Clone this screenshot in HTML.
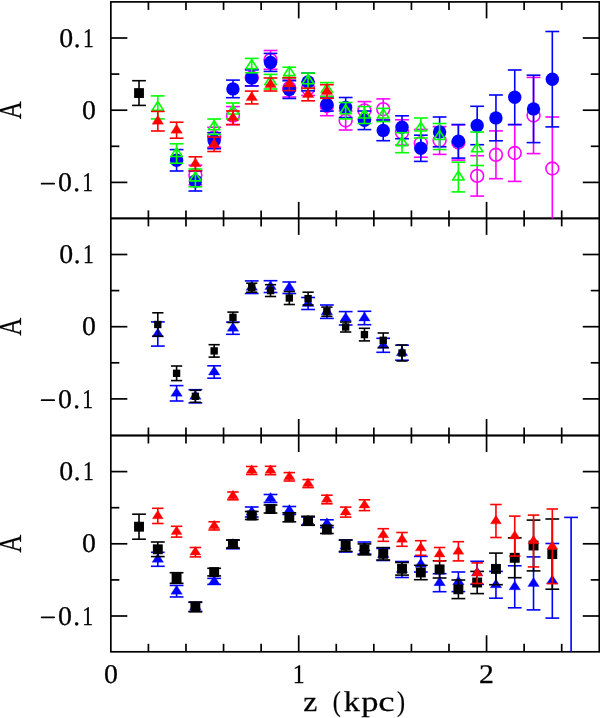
<!DOCTYPE html>
<html><head><meta charset="utf-8"><title>A vs z</title>
<style>
html,body{margin:0;padding:0;background:#fff;}
body{width:600px;height:718px;overflow:hidden;}
svg{display:block;}
text{text-rendering:geometricPrecision;}
.lbl{will-change:transform;}
.t{font-family:"Liberation Serif",serif;font-size:27.0px;fill:#000;stroke:#000;stroke-width:0.3px;}
.ax{font-family:"Liberation Serif",serif;font-size:29px;fill:#000;stroke:#000;stroke-width:0.25px;}
</style></head>
<body>
<svg width="600" height="718" viewBox="0 0 600 718">
<rect x="0" y="0" width="600" height="718" fill="#fff"/>
<rect x="110.84" y="1.90" width="488.44" height="216.50" fill="none" stroke="#000" stroke-width="1.7"/>
<line x1="110.84" y1="38.00" x2="127.34" y2="38.00" stroke="#000" stroke-width="1.7"/>
<line x1="582.78" y1="38.00" x2="599.28" y2="38.00" stroke="#000" stroke-width="1.7"/>
<line x1="110.84" y1="74.10" x2="119.34" y2="74.10" stroke="#000" stroke-width="1.7"/>
<line x1="590.78" y1="74.10" x2="599.28" y2="74.10" stroke="#000" stroke-width="1.7"/>
<line x1="110.84" y1="110.20" x2="127.34" y2="110.20" stroke="#000" stroke-width="1.7"/>
<line x1="582.78" y1="110.20" x2="599.28" y2="110.20" stroke="#000" stroke-width="1.7"/>
<line x1="110.84" y1="146.30" x2="119.34" y2="146.30" stroke="#000" stroke-width="1.7"/>
<line x1="590.78" y1="146.30" x2="599.28" y2="146.30" stroke="#000" stroke-width="1.7"/>
<line x1="110.84" y1="182.40" x2="127.34" y2="182.40" stroke="#000" stroke-width="1.7"/>
<line x1="582.78" y1="182.40" x2="599.28" y2="182.40" stroke="#000" stroke-width="1.7"/>
<line x1="148.41" y1="1.90" x2="148.41" y2="9.90" stroke="#000" stroke-width="1.7"/>
<line x1="148.41" y1="210.40" x2="148.41" y2="218.40" stroke="#000" stroke-width="1.7"/>
<line x1="185.98" y1="1.90" x2="185.98" y2="9.90" stroke="#000" stroke-width="1.7"/>
<line x1="185.98" y1="210.40" x2="185.98" y2="218.40" stroke="#000" stroke-width="1.7"/>
<line x1="223.56" y1="1.90" x2="223.56" y2="9.90" stroke="#000" stroke-width="1.7"/>
<line x1="223.56" y1="210.40" x2="223.56" y2="218.40" stroke="#000" stroke-width="1.7"/>
<line x1="261.13" y1="1.90" x2="261.13" y2="9.90" stroke="#000" stroke-width="1.7"/>
<line x1="261.13" y1="210.40" x2="261.13" y2="218.40" stroke="#000" stroke-width="1.7"/>
<line x1="298.70" y1="1.90" x2="298.70" y2="18.40" stroke="#000" stroke-width="1.7"/>
<line x1="298.70" y1="201.90" x2="298.70" y2="218.40" stroke="#000" stroke-width="1.7"/>
<line x1="336.27" y1="1.90" x2="336.27" y2="9.90" stroke="#000" stroke-width="1.7"/>
<line x1="336.27" y1="210.40" x2="336.27" y2="218.40" stroke="#000" stroke-width="1.7"/>
<line x1="373.84" y1="1.90" x2="373.84" y2="9.90" stroke="#000" stroke-width="1.7"/>
<line x1="373.84" y1="210.40" x2="373.84" y2="218.40" stroke="#000" stroke-width="1.7"/>
<line x1="411.42" y1="1.90" x2="411.42" y2="9.90" stroke="#000" stroke-width="1.7"/>
<line x1="411.42" y1="210.40" x2="411.42" y2="218.40" stroke="#000" stroke-width="1.7"/>
<line x1="448.99" y1="1.90" x2="448.99" y2="9.90" stroke="#000" stroke-width="1.7"/>
<line x1="448.99" y1="210.40" x2="448.99" y2="218.40" stroke="#000" stroke-width="1.7"/>
<line x1="486.56" y1="1.90" x2="486.56" y2="18.40" stroke="#000" stroke-width="1.7"/>
<line x1="486.56" y1="201.90" x2="486.56" y2="218.40" stroke="#000" stroke-width="1.7"/>
<line x1="524.13" y1="1.90" x2="524.13" y2="9.90" stroke="#000" stroke-width="1.7"/>
<line x1="524.13" y1="210.40" x2="524.13" y2="218.40" stroke="#000" stroke-width="1.7"/>
<line x1="561.70" y1="1.90" x2="561.70" y2="9.90" stroke="#000" stroke-width="1.7"/>
<line x1="561.70" y1="210.40" x2="561.70" y2="218.40" stroke="#000" stroke-width="1.7"/>
<rect x="110.84" y="218.40" width="488.44" height="217.10" fill="none" stroke="#000" stroke-width="1.7"/>
<line x1="110.84" y1="254.50" x2="127.34" y2="254.50" stroke="#000" stroke-width="1.7"/>
<line x1="582.78" y1="254.50" x2="599.28" y2="254.50" stroke="#000" stroke-width="1.7"/>
<line x1="110.84" y1="290.60" x2="119.34" y2="290.60" stroke="#000" stroke-width="1.7"/>
<line x1="590.78" y1="290.60" x2="599.28" y2="290.60" stroke="#000" stroke-width="1.7"/>
<line x1="110.84" y1="326.70" x2="127.34" y2="326.70" stroke="#000" stroke-width="1.7"/>
<line x1="582.78" y1="326.70" x2="599.28" y2="326.70" stroke="#000" stroke-width="1.7"/>
<line x1="110.84" y1="362.80" x2="119.34" y2="362.80" stroke="#000" stroke-width="1.7"/>
<line x1="590.78" y1="362.80" x2="599.28" y2="362.80" stroke="#000" stroke-width="1.7"/>
<line x1="110.84" y1="398.90" x2="127.34" y2="398.90" stroke="#000" stroke-width="1.7"/>
<line x1="582.78" y1="398.90" x2="599.28" y2="398.90" stroke="#000" stroke-width="1.7"/>
<line x1="148.41" y1="218.40" x2="148.41" y2="226.40" stroke="#000" stroke-width="1.7"/>
<line x1="148.41" y1="427.50" x2="148.41" y2="435.50" stroke="#000" stroke-width="1.7"/>
<line x1="185.98" y1="218.40" x2="185.98" y2="226.40" stroke="#000" stroke-width="1.7"/>
<line x1="185.98" y1="427.50" x2="185.98" y2="435.50" stroke="#000" stroke-width="1.7"/>
<line x1="223.56" y1="218.40" x2="223.56" y2="226.40" stroke="#000" stroke-width="1.7"/>
<line x1="223.56" y1="427.50" x2="223.56" y2="435.50" stroke="#000" stroke-width="1.7"/>
<line x1="261.13" y1="218.40" x2="261.13" y2="226.40" stroke="#000" stroke-width="1.7"/>
<line x1="261.13" y1="427.50" x2="261.13" y2="435.50" stroke="#000" stroke-width="1.7"/>
<line x1="298.70" y1="218.40" x2="298.70" y2="234.90" stroke="#000" stroke-width="1.7"/>
<line x1="298.70" y1="419.00" x2="298.70" y2="435.50" stroke="#000" stroke-width="1.7"/>
<line x1="336.27" y1="218.40" x2="336.27" y2="226.40" stroke="#000" stroke-width="1.7"/>
<line x1="336.27" y1="427.50" x2="336.27" y2="435.50" stroke="#000" stroke-width="1.7"/>
<line x1="373.84" y1="218.40" x2="373.84" y2="226.40" stroke="#000" stroke-width="1.7"/>
<line x1="373.84" y1="427.50" x2="373.84" y2="435.50" stroke="#000" stroke-width="1.7"/>
<line x1="411.42" y1="218.40" x2="411.42" y2="226.40" stroke="#000" stroke-width="1.7"/>
<line x1="411.42" y1="427.50" x2="411.42" y2="435.50" stroke="#000" stroke-width="1.7"/>
<line x1="448.99" y1="218.40" x2="448.99" y2="226.40" stroke="#000" stroke-width="1.7"/>
<line x1="448.99" y1="427.50" x2="448.99" y2="435.50" stroke="#000" stroke-width="1.7"/>
<line x1="486.56" y1="218.40" x2="486.56" y2="234.90" stroke="#000" stroke-width="1.7"/>
<line x1="486.56" y1="419.00" x2="486.56" y2="435.50" stroke="#000" stroke-width="1.7"/>
<line x1="524.13" y1="218.40" x2="524.13" y2="226.40" stroke="#000" stroke-width="1.7"/>
<line x1="524.13" y1="427.50" x2="524.13" y2="435.50" stroke="#000" stroke-width="1.7"/>
<line x1="561.70" y1="218.40" x2="561.70" y2="226.40" stroke="#000" stroke-width="1.7"/>
<line x1="561.70" y1="427.50" x2="561.70" y2="435.50" stroke="#000" stroke-width="1.7"/>
<rect x="110.84" y="435.50" width="488.44" height="216.30" fill="none" stroke="#000" stroke-width="1.7"/>
<line x1="110.84" y1="471.60" x2="127.34" y2="471.60" stroke="#000" stroke-width="1.7"/>
<line x1="582.78" y1="471.60" x2="599.28" y2="471.60" stroke="#000" stroke-width="1.7"/>
<line x1="110.84" y1="507.70" x2="119.34" y2="507.70" stroke="#000" stroke-width="1.7"/>
<line x1="590.78" y1="507.70" x2="599.28" y2="507.70" stroke="#000" stroke-width="1.7"/>
<line x1="110.84" y1="543.80" x2="127.34" y2="543.80" stroke="#000" stroke-width="1.7"/>
<line x1="582.78" y1="543.80" x2="599.28" y2="543.80" stroke="#000" stroke-width="1.7"/>
<line x1="110.84" y1="579.90" x2="119.34" y2="579.90" stroke="#000" stroke-width="1.7"/>
<line x1="590.78" y1="579.90" x2="599.28" y2="579.90" stroke="#000" stroke-width="1.7"/>
<line x1="110.84" y1="616.00" x2="127.34" y2="616.00" stroke="#000" stroke-width="1.7"/>
<line x1="582.78" y1="616.00" x2="599.28" y2="616.00" stroke="#000" stroke-width="1.7"/>
<line x1="148.41" y1="435.50" x2="148.41" y2="443.50" stroke="#000" stroke-width="1.7"/>
<line x1="148.41" y1="643.80" x2="148.41" y2="651.80" stroke="#000" stroke-width="1.7"/>
<line x1="185.98" y1="435.50" x2="185.98" y2="443.50" stroke="#000" stroke-width="1.7"/>
<line x1="185.98" y1="643.80" x2="185.98" y2="651.80" stroke="#000" stroke-width="1.7"/>
<line x1="223.56" y1="435.50" x2="223.56" y2="443.50" stroke="#000" stroke-width="1.7"/>
<line x1="223.56" y1="643.80" x2="223.56" y2="651.80" stroke="#000" stroke-width="1.7"/>
<line x1="261.13" y1="435.50" x2="261.13" y2="443.50" stroke="#000" stroke-width="1.7"/>
<line x1="261.13" y1="643.80" x2="261.13" y2="651.80" stroke="#000" stroke-width="1.7"/>
<line x1="298.70" y1="435.50" x2="298.70" y2="452.00" stroke="#000" stroke-width="1.7"/>
<line x1="298.70" y1="635.30" x2="298.70" y2="651.80" stroke="#000" stroke-width="1.7"/>
<line x1="336.27" y1="435.50" x2="336.27" y2="443.50" stroke="#000" stroke-width="1.7"/>
<line x1="336.27" y1="643.80" x2="336.27" y2="651.80" stroke="#000" stroke-width="1.7"/>
<line x1="373.84" y1="435.50" x2="373.84" y2="443.50" stroke="#000" stroke-width="1.7"/>
<line x1="373.84" y1="643.80" x2="373.84" y2="651.80" stroke="#000" stroke-width="1.7"/>
<line x1="411.42" y1="435.50" x2="411.42" y2="443.50" stroke="#000" stroke-width="1.7"/>
<line x1="411.42" y1="643.80" x2="411.42" y2="651.80" stroke="#000" stroke-width="1.7"/>
<line x1="448.99" y1="435.50" x2="448.99" y2="443.50" stroke="#000" stroke-width="1.7"/>
<line x1="448.99" y1="643.80" x2="448.99" y2="651.80" stroke="#000" stroke-width="1.7"/>
<line x1="486.56" y1="435.50" x2="486.56" y2="452.00" stroke="#000" stroke-width="1.7"/>
<line x1="486.56" y1="635.30" x2="486.56" y2="651.80" stroke="#000" stroke-width="1.7"/>
<line x1="524.13" y1="435.50" x2="524.13" y2="443.50" stroke="#000" stroke-width="1.7"/>
<line x1="524.13" y1="643.80" x2="524.13" y2="651.80" stroke="#000" stroke-width="1.7"/>
<line x1="561.70" y1="435.50" x2="561.70" y2="443.50" stroke="#000" stroke-width="1.7"/>
<line x1="561.70" y1="643.80" x2="561.70" y2="651.80" stroke="#000" stroke-width="1.7"/>
<line x1="139.02" y1="80.70" x2="139.02" y2="105.40" stroke="#000000" stroke-width="1.6"/><line x1="132.12" y1="80.70" x2="145.92" y2="80.70" stroke="#000000" stroke-width="1.6"/><line x1="132.12" y1="105.40" x2="145.92" y2="105.40" stroke="#000000" stroke-width="1.6"/><rect x="134.10" y="88.14" width="9.83" height="9.83" fill="#000000"/>
<line x1="195.38" y1="165.20" x2="195.38" y2="184.80" stroke="#ff00ff" stroke-width="1.6"/><line x1="188.48" y1="165.20" x2="202.28" y2="165.20" stroke="#ff00ff" stroke-width="1.6"/><line x1="188.48" y1="184.80" x2="202.28" y2="184.80" stroke="#ff00ff" stroke-width="1.6"/><line x1="214.16" y1="127.30" x2="214.16" y2="147.30" stroke="#ff00ff" stroke-width="1.6"/><line x1="207.26" y1="127.30" x2="221.06" y2="127.30" stroke="#ff00ff" stroke-width="1.6"/><line x1="207.26" y1="147.30" x2="221.06" y2="147.30" stroke="#ff00ff" stroke-width="1.6"/><line x1="232.95" y1="106.60" x2="232.95" y2="124.60" stroke="#ff00ff" stroke-width="1.6"/><line x1="226.05" y1="106.60" x2="239.85" y2="106.60" stroke="#ff00ff" stroke-width="1.6"/><line x1="226.05" y1="124.60" x2="239.85" y2="124.60" stroke="#ff00ff" stroke-width="1.6"/><line x1="251.74" y1="69.00" x2="251.74" y2="86.00" stroke="#ff00ff" stroke-width="1.6"/><line x1="244.84" y1="69.00" x2="258.63" y2="69.00" stroke="#ff00ff" stroke-width="1.6"/><line x1="244.84" y1="86.00" x2="258.63" y2="86.00" stroke="#ff00ff" stroke-width="1.6"/><line x1="270.52" y1="50.50" x2="270.52" y2="69.30" stroke="#ff00ff" stroke-width="1.6"/><line x1="263.62" y1="50.50" x2="277.42" y2="50.50" stroke="#ff00ff" stroke-width="1.6"/><line x1="263.62" y1="69.30" x2="277.42" y2="69.30" stroke="#ff00ff" stroke-width="1.6"/><line x1="289.31" y1="79.00" x2="289.31" y2="97.00" stroke="#ff00ff" stroke-width="1.6"/><line x1="282.41" y1="79.00" x2="296.21" y2="79.00" stroke="#ff00ff" stroke-width="1.6"/><line x1="282.41" y1="97.00" x2="296.21" y2="97.00" stroke="#ff00ff" stroke-width="1.6"/><line x1="308.09" y1="81.50" x2="308.09" y2="95.50" stroke="#ff00ff" stroke-width="1.6"/><line x1="301.19" y1="81.50" x2="314.99" y2="81.50" stroke="#ff00ff" stroke-width="1.6"/><line x1="301.19" y1="95.50" x2="314.99" y2="95.50" stroke="#ff00ff" stroke-width="1.6"/><line x1="326.88" y1="96.30" x2="326.88" y2="115.70" stroke="#ff00ff" stroke-width="1.6"/><line x1="319.98" y1="96.30" x2="333.78" y2="96.30" stroke="#ff00ff" stroke-width="1.6"/><line x1="319.98" y1="115.70" x2="333.78" y2="115.70" stroke="#ff00ff" stroke-width="1.6"/><line x1="345.67" y1="111.00" x2="345.67" y2="130.00" stroke="#ff00ff" stroke-width="1.6"/><line x1="338.77" y1="111.00" x2="352.56" y2="111.00" stroke="#ff00ff" stroke-width="1.6"/><line x1="338.77" y1="130.00" x2="352.56" y2="130.00" stroke="#ff00ff" stroke-width="1.6"/><line x1="364.45" y1="101.60" x2="364.45" y2="119.20" stroke="#ff00ff" stroke-width="1.6"/><line x1="357.55" y1="101.60" x2="371.35" y2="101.60" stroke="#ff00ff" stroke-width="1.6"/><line x1="357.55" y1="119.20" x2="371.35" y2="119.20" stroke="#ff00ff" stroke-width="1.6"/><line x1="383.24" y1="98.90" x2="383.24" y2="119.50" stroke="#ff00ff" stroke-width="1.6"/><line x1="376.34" y1="98.90" x2="390.14" y2="98.90" stroke="#ff00ff" stroke-width="1.6"/><line x1="376.34" y1="119.50" x2="390.14" y2="119.50" stroke="#ff00ff" stroke-width="1.6"/><line x1="402.02" y1="119.80" x2="402.02" y2="145.10" stroke="#ff00ff" stroke-width="1.6"/><line x1="395.12" y1="119.80" x2="408.92" y2="119.80" stroke="#ff00ff" stroke-width="1.6"/><line x1="395.12" y1="145.10" x2="408.92" y2="145.10" stroke="#ff00ff" stroke-width="1.6"/><line x1="420.81" y1="129.40" x2="420.81" y2="157.20" stroke="#ff00ff" stroke-width="1.6"/><line x1="413.91" y1="129.40" x2="427.71" y2="129.40" stroke="#ff00ff" stroke-width="1.6"/><line x1="413.91" y1="157.20" x2="427.71" y2="157.20" stroke="#ff00ff" stroke-width="1.6"/><line x1="439.60" y1="126.60" x2="439.60" y2="154.40" stroke="#ff00ff" stroke-width="1.6"/><line x1="432.70" y1="126.60" x2="446.50" y2="126.60" stroke="#ff00ff" stroke-width="1.6"/><line x1="432.70" y1="154.40" x2="446.50" y2="154.40" stroke="#ff00ff" stroke-width="1.6"/><line x1="458.38" y1="124.90" x2="458.38" y2="160.10" stroke="#ff00ff" stroke-width="1.6"/><line x1="451.48" y1="124.90" x2="465.28" y2="124.90" stroke="#ff00ff" stroke-width="1.6"/><line x1="451.48" y1="160.10" x2="465.28" y2="160.10" stroke="#ff00ff" stroke-width="1.6"/><line x1="477.17" y1="155.70" x2="477.17" y2="196.10" stroke="#ff00ff" stroke-width="1.6"/><line x1="470.27" y1="155.70" x2="484.07" y2="155.70" stroke="#ff00ff" stroke-width="1.6"/><line x1="470.27" y1="196.10" x2="484.07" y2="196.10" stroke="#ff00ff" stroke-width="1.6"/><line x1="495.95" y1="130.90" x2="495.95" y2="178.70" stroke="#ff00ff" stroke-width="1.6"/><line x1="489.05" y1="130.90" x2="502.85" y2="130.90" stroke="#ff00ff" stroke-width="1.6"/><line x1="489.05" y1="178.70" x2="502.85" y2="178.70" stroke="#ff00ff" stroke-width="1.6"/><line x1="514.74" y1="124.60" x2="514.74" y2="181.40" stroke="#ff00ff" stroke-width="1.6"/><line x1="507.84" y1="124.60" x2="521.64" y2="124.60" stroke="#ff00ff" stroke-width="1.6"/><line x1="507.84" y1="181.40" x2="521.64" y2="181.40" stroke="#ff00ff" stroke-width="1.6"/><line x1="533.53" y1="77.40" x2="533.53" y2="153.60" stroke="#ff00ff" stroke-width="1.6"/><line x1="526.63" y1="77.40" x2="540.43" y2="77.40" stroke="#ff00ff" stroke-width="1.6"/><line x1="526.63" y1="153.60" x2="540.43" y2="153.60" stroke="#ff00ff" stroke-width="1.6"/><line x1="552.31" y1="117.00" x2="552.31" y2="218.40" stroke="#ff00ff" stroke-width="1.6"/><line x1="545.41" y1="117.00" x2="559.21" y2="117.00" stroke="#ff00ff" stroke-width="1.6"/><circle cx="195.38" cy="175.00" r="6.40" fill="none" stroke="#ff00ff" stroke-width="1.6"/><circle cx="214.16" cy="137.30" r="6.40" fill="none" stroke="#ff00ff" stroke-width="1.6"/><circle cx="232.95" cy="115.60" r="6.40" fill="none" stroke="#ff00ff" stroke-width="1.6"/><circle cx="251.74" cy="77.50" r="6.40" fill="none" stroke="#ff00ff" stroke-width="1.6"/><circle cx="270.52" cy="59.90" r="6.40" fill="none" stroke="#ff00ff" stroke-width="1.6"/><circle cx="289.31" cy="88.00" r="6.40" fill="none" stroke="#ff00ff" stroke-width="1.6"/><circle cx="308.09" cy="88.50" r="6.40" fill="none" stroke="#ff00ff" stroke-width="1.6"/><circle cx="326.88" cy="106.00" r="6.40" fill="none" stroke="#ff00ff" stroke-width="1.6"/><circle cx="345.67" cy="120.50" r="6.40" fill="none" stroke="#ff00ff" stroke-width="1.6"/><circle cx="364.45" cy="110.40" r="6.40" fill="none" stroke="#ff00ff" stroke-width="1.6"/><circle cx="383.24" cy="109.20" r="6.40" fill="none" stroke="#ff00ff" stroke-width="1.6"/><circle cx="402.02" cy="132.45" r="6.40" fill="none" stroke="#ff00ff" stroke-width="1.6"/><circle cx="420.81" cy="143.30" r="6.40" fill="none" stroke="#ff00ff" stroke-width="1.6"/><circle cx="439.60" cy="140.50" r="6.40" fill="none" stroke="#ff00ff" stroke-width="1.6"/><circle cx="458.38" cy="142.50" r="6.40" fill="none" stroke="#ff00ff" stroke-width="1.6"/><circle cx="477.17" cy="175.90" r="6.40" fill="none" stroke="#ff00ff" stroke-width="1.6"/><circle cx="495.95" cy="154.80" r="6.40" fill="none" stroke="#ff00ff" stroke-width="1.6"/><circle cx="514.74" cy="153.00" r="6.40" fill="none" stroke="#ff00ff" stroke-width="1.6"/><circle cx="533.53" cy="115.50" r="6.40" fill="none" stroke="#ff00ff" stroke-width="1.6"/><circle cx="552.31" cy="168.50" r="6.40" fill="none" stroke="#ff00ff" stroke-width="1.6"/>
<line x1="176.59" y1="149.60" x2="176.59" y2="171.00" stroke="#0000ff" stroke-width="1.6"/><line x1="169.69" y1="149.60" x2="183.49" y2="149.60" stroke="#0000ff" stroke-width="1.6"/><line x1="169.69" y1="171.00" x2="183.49" y2="171.00" stroke="#0000ff" stroke-width="1.6"/><line x1="195.38" y1="171.00" x2="195.38" y2="191.00" stroke="#0000ff" stroke-width="1.6"/><line x1="188.48" y1="171.00" x2="202.28" y2="171.00" stroke="#0000ff" stroke-width="1.6"/><line x1="188.48" y1="191.00" x2="202.28" y2="191.00" stroke="#0000ff" stroke-width="1.6"/><line x1="214.16" y1="132.70" x2="214.16" y2="148.70" stroke="#0000ff" stroke-width="1.6"/><line x1="207.26" y1="132.70" x2="221.06" y2="132.70" stroke="#0000ff" stroke-width="1.6"/><line x1="207.26" y1="148.70" x2="221.06" y2="148.70" stroke="#0000ff" stroke-width="1.6"/><line x1="232.95" y1="80.10" x2="232.95" y2="97.70" stroke="#0000ff" stroke-width="1.6"/><line x1="226.05" y1="80.10" x2="239.85" y2="80.10" stroke="#0000ff" stroke-width="1.6"/><line x1="226.05" y1="97.70" x2="239.85" y2="97.70" stroke="#0000ff" stroke-width="1.6"/><line x1="251.74" y1="69.90" x2="251.74" y2="85.90" stroke="#0000ff" stroke-width="1.6"/><line x1="244.84" y1="69.90" x2="258.63" y2="69.90" stroke="#0000ff" stroke-width="1.6"/><line x1="244.84" y1="85.90" x2="258.63" y2="85.90" stroke="#0000ff" stroke-width="1.6"/><line x1="270.52" y1="53.40" x2="270.52" y2="71.40" stroke="#0000ff" stroke-width="1.6"/><line x1="263.62" y1="53.40" x2="277.42" y2="53.40" stroke="#0000ff" stroke-width="1.6"/><line x1="263.62" y1="71.40" x2="277.42" y2="71.40" stroke="#0000ff" stroke-width="1.6"/><line x1="289.31" y1="80.70" x2="289.31" y2="98.50" stroke="#0000ff" stroke-width="1.6"/><line x1="282.41" y1="80.70" x2="296.21" y2="80.70" stroke="#0000ff" stroke-width="1.6"/><line x1="282.41" y1="98.50" x2="296.21" y2="98.50" stroke="#0000ff" stroke-width="1.6"/><line x1="308.09" y1="73.10" x2="308.09" y2="90.90" stroke="#0000ff" stroke-width="1.6"/><line x1="301.19" y1="73.10" x2="314.99" y2="73.10" stroke="#0000ff" stroke-width="1.6"/><line x1="301.19" y1="90.90" x2="314.99" y2="90.90" stroke="#0000ff" stroke-width="1.6"/><line x1="326.88" y1="97.90" x2="326.88" y2="111.10" stroke="#0000ff" stroke-width="1.6"/><line x1="319.98" y1="97.90" x2="333.78" y2="97.90" stroke="#0000ff" stroke-width="1.6"/><line x1="319.98" y1="111.10" x2="333.78" y2="111.10" stroke="#0000ff" stroke-width="1.6"/><line x1="345.67" y1="97.50" x2="345.67" y2="117.50" stroke="#0000ff" stroke-width="1.6"/><line x1="338.77" y1="97.50" x2="352.56" y2="97.50" stroke="#0000ff" stroke-width="1.6"/><line x1="338.77" y1="117.50" x2="352.56" y2="117.50" stroke="#0000ff" stroke-width="1.6"/><line x1="364.45" y1="111.00" x2="364.45" y2="129.60" stroke="#0000ff" stroke-width="1.6"/><line x1="357.55" y1="111.00" x2="371.35" y2="111.00" stroke="#0000ff" stroke-width="1.6"/><line x1="357.55" y1="129.60" x2="371.35" y2="129.60" stroke="#0000ff" stroke-width="1.6"/><line x1="383.24" y1="120.10" x2="383.24" y2="140.70" stroke="#0000ff" stroke-width="1.6"/><line x1="376.34" y1="120.10" x2="390.14" y2="120.10" stroke="#0000ff" stroke-width="1.6"/><line x1="376.34" y1="140.70" x2="390.14" y2="140.70" stroke="#0000ff" stroke-width="1.6"/><line x1="402.02" y1="115.80" x2="402.02" y2="138.70" stroke="#0000ff" stroke-width="1.6"/><line x1="395.12" y1="115.80" x2="408.92" y2="115.80" stroke="#0000ff" stroke-width="1.6"/><line x1="395.12" y1="138.70" x2="408.92" y2="138.70" stroke="#0000ff" stroke-width="1.6"/><line x1="420.81" y1="135.20" x2="420.81" y2="161.40" stroke="#0000ff" stroke-width="1.6"/><line x1="413.91" y1="135.20" x2="427.71" y2="135.20" stroke="#0000ff" stroke-width="1.6"/><line x1="413.91" y1="161.40" x2="427.71" y2="161.40" stroke="#0000ff" stroke-width="1.6"/><line x1="439.60" y1="117.00" x2="439.60" y2="146.80" stroke="#0000ff" stroke-width="1.6"/><line x1="432.70" y1="117.00" x2="446.50" y2="117.00" stroke="#0000ff" stroke-width="1.6"/><line x1="432.70" y1="146.80" x2="446.50" y2="146.80" stroke="#0000ff" stroke-width="1.6"/><line x1="458.38" y1="124.50" x2="458.38" y2="158.10" stroke="#0000ff" stroke-width="1.6"/><line x1="451.48" y1="124.50" x2="465.28" y2="124.50" stroke="#0000ff" stroke-width="1.6"/><line x1="451.48" y1="158.10" x2="465.28" y2="158.10" stroke="#0000ff" stroke-width="1.6"/><line x1="477.17" y1="106.30" x2="477.17" y2="144.70" stroke="#0000ff" stroke-width="1.6"/><line x1="470.27" y1="106.30" x2="484.07" y2="106.30" stroke="#0000ff" stroke-width="1.6"/><line x1="470.27" y1="144.70" x2="484.07" y2="144.70" stroke="#0000ff" stroke-width="1.6"/><line x1="495.95" y1="95.00" x2="495.95" y2="140.80" stroke="#0000ff" stroke-width="1.6"/><line x1="489.05" y1="95.00" x2="502.85" y2="95.00" stroke="#0000ff" stroke-width="1.6"/><line x1="489.05" y1="140.80" x2="502.85" y2="140.80" stroke="#0000ff" stroke-width="1.6"/><line x1="514.74" y1="70.00" x2="514.74" y2="124.60" stroke="#0000ff" stroke-width="1.6"/><line x1="507.84" y1="70.00" x2="521.64" y2="70.00" stroke="#0000ff" stroke-width="1.6"/><line x1="507.84" y1="124.60" x2="521.64" y2="124.60" stroke="#0000ff" stroke-width="1.6"/><line x1="533.53" y1="75.20" x2="533.53" y2="142.60" stroke="#0000ff" stroke-width="1.6"/><line x1="526.63" y1="75.20" x2="540.43" y2="75.20" stroke="#0000ff" stroke-width="1.6"/><line x1="526.63" y1="142.60" x2="540.43" y2="142.60" stroke="#0000ff" stroke-width="1.6"/><line x1="552.31" y1="31.50" x2="552.31" y2="126.90" stroke="#0000ff" stroke-width="1.6"/><line x1="545.41" y1="31.50" x2="559.21" y2="31.50" stroke="#0000ff" stroke-width="1.6"/><line x1="545.41" y1="126.90" x2="559.21" y2="126.90" stroke="#0000ff" stroke-width="1.6"/><circle cx="176.59" cy="160.30" r="6.70" fill="#0000ff"/><circle cx="195.38" cy="181.00" r="6.70" fill="#0000ff"/><circle cx="214.16" cy="140.70" r="6.70" fill="#0000ff"/><circle cx="232.95" cy="88.90" r="6.70" fill="#0000ff"/><circle cx="251.74" cy="77.90" r="6.70" fill="#0000ff"/><circle cx="270.52" cy="62.40" r="6.70" fill="#0000ff"/><circle cx="289.31" cy="89.60" r="6.70" fill="#0000ff"/><circle cx="308.09" cy="82.00" r="6.70" fill="#0000ff"/><circle cx="326.88" cy="104.50" r="6.70" fill="#0000ff"/><circle cx="345.67" cy="107.50" r="6.70" fill="#0000ff"/><circle cx="364.45" cy="120.30" r="6.70" fill="#0000ff"/><circle cx="383.24" cy="130.40" r="6.70" fill="#0000ff"/><circle cx="402.02" cy="127.25" r="6.70" fill="#0000ff"/><circle cx="420.81" cy="148.30" r="6.70" fill="#0000ff"/><circle cx="439.60" cy="131.90" r="6.70" fill="#0000ff"/><circle cx="458.38" cy="141.30" r="6.70" fill="#0000ff"/><circle cx="477.17" cy="125.50" r="6.70" fill="#0000ff"/><circle cx="495.95" cy="117.90" r="6.70" fill="#0000ff"/><circle cx="514.74" cy="97.30" r="6.70" fill="#0000ff"/><circle cx="533.53" cy="108.90" r="6.70" fill="#0000ff"/><circle cx="552.31" cy="79.20" r="6.70" fill="#0000ff"/>
<line x1="157.81" y1="95.90" x2="157.81" y2="118.90" stroke="#00ff00" stroke-width="1.6"/><line x1="150.91" y1="95.90" x2="164.71" y2="95.90" stroke="#00ff00" stroke-width="1.6"/><line x1="150.91" y1="118.90" x2="164.71" y2="118.90" stroke="#00ff00" stroke-width="1.6"/><line x1="176.59" y1="143.80" x2="176.59" y2="163.20" stroke="#00ff00" stroke-width="1.6"/><line x1="169.69" y1="143.80" x2="183.49" y2="143.80" stroke="#00ff00" stroke-width="1.6"/><line x1="169.69" y1="163.20" x2="183.49" y2="163.20" stroke="#00ff00" stroke-width="1.6"/><line x1="195.38" y1="169.00" x2="195.38" y2="186.80" stroke="#00ff00" stroke-width="1.6"/><line x1="188.48" y1="169.00" x2="202.28" y2="169.00" stroke="#00ff00" stroke-width="1.6"/><line x1="188.48" y1="186.80" x2="202.28" y2="186.80" stroke="#00ff00" stroke-width="1.6"/><line x1="214.16" y1="119.00" x2="214.16" y2="134.40" stroke="#00ff00" stroke-width="1.6"/><line x1="207.26" y1="119.00" x2="221.06" y2="119.00" stroke="#00ff00" stroke-width="1.6"/><line x1="207.26" y1="134.40" x2="221.06" y2="134.40" stroke="#00ff00" stroke-width="1.6"/><line x1="232.95" y1="103.00" x2="232.95" y2="119.00" stroke="#00ff00" stroke-width="1.6"/><line x1="226.05" y1="103.00" x2="239.85" y2="103.00" stroke="#00ff00" stroke-width="1.6"/><line x1="226.05" y1="119.00" x2="239.85" y2="119.00" stroke="#00ff00" stroke-width="1.6"/><line x1="251.74" y1="58.40" x2="251.74" y2="72.80" stroke="#00ff00" stroke-width="1.6"/><line x1="244.84" y1="58.40" x2="258.63" y2="58.40" stroke="#00ff00" stroke-width="1.6"/><line x1="244.84" y1="72.80" x2="258.63" y2="72.80" stroke="#00ff00" stroke-width="1.6"/><line x1="270.52" y1="74.40" x2="270.52" y2="89.00" stroke="#00ff00" stroke-width="1.6"/><line x1="263.62" y1="74.40" x2="277.42" y2="74.40" stroke="#00ff00" stroke-width="1.6"/><line x1="263.62" y1="89.00" x2="277.42" y2="89.00" stroke="#00ff00" stroke-width="1.6"/><line x1="289.31" y1="67.20" x2="289.31" y2="78.00" stroke="#00ff00" stroke-width="1.6"/><line x1="282.41" y1="67.20" x2="296.21" y2="67.20" stroke="#00ff00" stroke-width="1.6"/><line x1="282.41" y1="78.00" x2="296.21" y2="78.00" stroke="#00ff00" stroke-width="1.6"/><line x1="308.09" y1="73.10" x2="308.09" y2="88.50" stroke="#00ff00" stroke-width="1.6"/><line x1="301.19" y1="73.10" x2="314.99" y2="73.10" stroke="#00ff00" stroke-width="1.6"/><line x1="301.19" y1="88.50" x2="314.99" y2="88.50" stroke="#00ff00" stroke-width="1.6"/><line x1="326.88" y1="82.60" x2="326.88" y2="96.40" stroke="#00ff00" stroke-width="1.6"/><line x1="319.98" y1="82.60" x2="333.78" y2="82.60" stroke="#00ff00" stroke-width="1.6"/><line x1="319.98" y1="96.40" x2="333.78" y2="96.40" stroke="#00ff00" stroke-width="1.6"/><line x1="345.67" y1="102.50" x2="345.67" y2="118.90" stroke="#00ff00" stroke-width="1.6"/><line x1="338.77" y1="102.50" x2="352.56" y2="102.50" stroke="#00ff00" stroke-width="1.6"/><line x1="338.77" y1="118.90" x2="352.56" y2="118.90" stroke="#00ff00" stroke-width="1.6"/><line x1="364.45" y1="106.50" x2="364.45" y2="123.50" stroke="#00ff00" stroke-width="1.6"/><line x1="357.55" y1="106.50" x2="371.35" y2="106.50" stroke="#00ff00" stroke-width="1.6"/><line x1="357.55" y1="123.50" x2="371.35" y2="123.50" stroke="#00ff00" stroke-width="1.6"/><line x1="383.24" y1="108.40" x2="383.24" y2="121.60" stroke="#00ff00" stroke-width="1.6"/><line x1="376.34" y1="108.40" x2="390.14" y2="108.40" stroke="#00ff00" stroke-width="1.6"/><line x1="376.34" y1="121.60" x2="390.14" y2="121.60" stroke="#00ff00" stroke-width="1.6"/><line x1="402.02" y1="132.70" x2="402.02" y2="152.70" stroke="#00ff00" stroke-width="1.6"/><line x1="395.12" y1="132.70" x2="408.92" y2="132.70" stroke="#00ff00" stroke-width="1.6"/><line x1="395.12" y1="152.70" x2="408.92" y2="152.70" stroke="#00ff00" stroke-width="1.6"/><line x1="420.81" y1="118.00" x2="420.81" y2="138.00" stroke="#00ff00" stroke-width="1.6"/><line x1="413.91" y1="118.00" x2="427.71" y2="118.00" stroke="#00ff00" stroke-width="1.6"/><line x1="413.91" y1="138.00" x2="427.71" y2="138.00" stroke="#00ff00" stroke-width="1.6"/><line x1="439.60" y1="123.50" x2="439.60" y2="149.50" stroke="#00ff00" stroke-width="1.6"/><line x1="432.70" y1="123.50" x2="446.50" y2="123.50" stroke="#00ff00" stroke-width="1.6"/><line x1="432.70" y1="149.50" x2="446.50" y2="149.50" stroke="#00ff00" stroke-width="1.6"/><line x1="458.38" y1="162.20" x2="458.38" y2="191.90" stroke="#00ff00" stroke-width="1.6"/><line x1="451.48" y1="162.20" x2="465.28" y2="162.20" stroke="#00ff00" stroke-width="1.6"/><line x1="451.48" y1="191.90" x2="465.28" y2="191.90" stroke="#00ff00" stroke-width="1.6"/><line x1="477.17" y1="132.10" x2="477.17" y2="165.50" stroke="#00ff00" stroke-width="1.6"/><line x1="470.27" y1="132.10" x2="484.07" y2="132.10" stroke="#00ff00" stroke-width="1.6"/><line x1="470.27" y1="165.50" x2="484.07" y2="165.50" stroke="#00ff00" stroke-width="1.6"/><polygon points="157.81,101.50 152.06,110.40 163.56,110.40" fill="none" stroke="#00ff00" stroke-width="1.6" stroke-linejoin="round"/><polygon points="176.59,147.60 170.84,156.50 182.34,156.50" fill="none" stroke="#00ff00" stroke-width="1.6" stroke-linejoin="round"/><polygon points="195.38,172.00 189.63,180.90 201.13,180.90" fill="none" stroke="#00ff00" stroke-width="1.6" stroke-linejoin="round"/><polygon points="214.16,120.80 208.41,129.70 219.91,129.70" fill="none" stroke="#00ff00" stroke-width="1.6" stroke-linejoin="round"/><polygon points="232.95,105.10 227.20,114.00 238.70,114.00" fill="none" stroke="#00ff00" stroke-width="1.6" stroke-linejoin="round"/><polygon points="251.74,59.70 245.99,68.60 257.49,68.60" fill="none" stroke="#00ff00" stroke-width="1.6" stroke-linejoin="round"/><polygon points="270.52,75.80 264.77,84.70 276.27,84.70" fill="none" stroke="#00ff00" stroke-width="1.6" stroke-linejoin="round"/><polygon points="289.31,66.70 283.56,75.60 295.06,75.60" fill="none" stroke="#00ff00" stroke-width="1.6" stroke-linejoin="round"/><polygon points="308.09,74.90 302.34,83.80 313.84,83.80" fill="none" stroke="#00ff00" stroke-width="1.6" stroke-linejoin="round"/><polygon points="326.88,83.60 321.13,92.50 332.63,92.50" fill="none" stroke="#00ff00" stroke-width="1.6" stroke-linejoin="round"/><polygon points="345.67,104.80 339.92,113.70 351.42,113.70" fill="none" stroke="#00ff00" stroke-width="1.6" stroke-linejoin="round"/><polygon points="364.45,109.10 358.70,118.00 370.20,118.00" fill="none" stroke="#00ff00" stroke-width="1.6" stroke-linejoin="round"/><polygon points="383.24,109.10 377.49,118.00 388.99,118.00" fill="none" stroke="#00ff00" stroke-width="1.6" stroke-linejoin="round"/><polygon points="402.02,136.80 396.27,145.70 407.77,145.70" fill="none" stroke="#00ff00" stroke-width="1.6" stroke-linejoin="round"/><polygon points="420.81,122.10 415.06,131.00 426.56,131.00" fill="none" stroke="#00ff00" stroke-width="1.6" stroke-linejoin="round"/><polygon points="439.60,130.60 433.85,139.50 445.35,139.50" fill="none" stroke="#00ff00" stroke-width="1.6" stroke-linejoin="round"/><polygon points="458.38,171.15 452.63,180.05 464.13,180.05" fill="none" stroke="#00ff00" stroke-width="1.6" stroke-linejoin="round"/><polygon points="477.17,142.90 471.42,151.80 482.92,151.80" fill="none" stroke="#00ff00" stroke-width="1.6" stroke-linejoin="round"/>
<line x1="157.81" y1="111.40" x2="157.81" y2="131.00" stroke="#ff0000" stroke-width="1.6"/><line x1="150.91" y1="111.40" x2="164.71" y2="111.40" stroke="#ff0000" stroke-width="1.6"/><line x1="150.91" y1="131.00" x2="164.71" y2="131.00" stroke="#ff0000" stroke-width="1.6"/><line x1="176.59" y1="122.20" x2="176.59" y2="138.20" stroke="#ff0000" stroke-width="1.6"/><line x1="169.69" y1="122.20" x2="183.49" y2="122.20" stroke="#ff0000" stroke-width="1.6"/><line x1="169.69" y1="138.20" x2="183.49" y2="138.20" stroke="#ff0000" stroke-width="1.6"/><line x1="195.38" y1="156.80" x2="195.38" y2="170.80" stroke="#ff0000" stroke-width="1.6"/><line x1="188.48" y1="156.80" x2="202.28" y2="156.80" stroke="#ff0000" stroke-width="1.6"/><line x1="188.48" y1="170.80" x2="202.28" y2="170.80" stroke="#ff0000" stroke-width="1.6"/><line x1="214.16" y1="137.10" x2="214.16" y2="151.50" stroke="#ff0000" stroke-width="1.6"/><line x1="207.26" y1="137.10" x2="221.06" y2="137.10" stroke="#ff0000" stroke-width="1.6"/><line x1="207.26" y1="151.50" x2="221.06" y2="151.50" stroke="#ff0000" stroke-width="1.6"/><line x1="232.95" y1="111.00" x2="232.95" y2="124.60" stroke="#ff0000" stroke-width="1.6"/><line x1="226.05" y1="111.00" x2="239.85" y2="111.00" stroke="#ff0000" stroke-width="1.6"/><line x1="226.05" y1="124.60" x2="239.85" y2="124.60" stroke="#ff0000" stroke-width="1.6"/><line x1="251.74" y1="91.10" x2="251.74" y2="103.90" stroke="#ff0000" stroke-width="1.6"/><line x1="244.84" y1="91.10" x2="258.63" y2="91.10" stroke="#ff0000" stroke-width="1.6"/><line x1="244.84" y1="103.90" x2="258.63" y2="103.90" stroke="#ff0000" stroke-width="1.6"/><line x1="270.52" y1="78.00" x2="270.52" y2="91.00" stroke="#ff0000" stroke-width="1.6"/><line x1="263.62" y1="78.00" x2="277.42" y2="78.00" stroke="#ff0000" stroke-width="1.6"/><line x1="263.62" y1="91.00" x2="277.42" y2="91.00" stroke="#ff0000" stroke-width="1.6"/><line x1="289.31" y1="77.60" x2="289.31" y2="90.60" stroke="#ff0000" stroke-width="1.6"/><line x1="282.41" y1="77.60" x2="296.21" y2="77.60" stroke="#ff0000" stroke-width="1.6"/><line x1="282.41" y1="90.60" x2="296.21" y2="90.60" stroke="#ff0000" stroke-width="1.6"/><line x1="308.09" y1="88.20" x2="308.09" y2="100.80" stroke="#ff0000" stroke-width="1.6"/><line x1="301.19" y1="88.20" x2="314.99" y2="88.20" stroke="#ff0000" stroke-width="1.6"/><line x1="301.19" y1="100.80" x2="314.99" y2="100.80" stroke="#ff0000" stroke-width="1.6"/><line x1="326.88" y1="84.70" x2="326.88" y2="98.30" stroke="#ff0000" stroke-width="1.6"/><line x1="319.98" y1="84.70" x2="333.78" y2="84.70" stroke="#ff0000" stroke-width="1.6"/><line x1="319.98" y1="98.30" x2="333.78" y2="98.30" stroke="#ff0000" stroke-width="1.6"/><polygon points="157.81,115.30 152.06,124.20 163.56,124.20" fill="#ff0000" stroke="#ff0000" stroke-width="0.3" stroke-linejoin="round"/><polygon points="176.59,124.30 170.84,133.20 182.34,133.20" fill="#ff0000" stroke="#ff0000" stroke-width="0.3" stroke-linejoin="round"/><polygon points="195.38,157.90 189.63,166.80 201.13,166.80" fill="#ff0000" stroke="#ff0000" stroke-width="0.3" stroke-linejoin="round"/><polygon points="214.16,138.40 208.41,147.30 219.91,147.30" fill="#ff0000" stroke="#ff0000" stroke-width="0.3" stroke-linejoin="round"/><polygon points="232.95,111.90 227.20,120.80 238.70,120.80" fill="#ff0000" stroke="#ff0000" stroke-width="0.3" stroke-linejoin="round"/><polygon points="251.74,91.60 245.99,100.50 257.49,100.50" fill="#ff0000" stroke="#ff0000" stroke-width="0.3" stroke-linejoin="round"/><polygon points="270.52,78.60 264.77,87.50 276.27,87.50" fill="#ff0000" stroke="#ff0000" stroke-width="0.3" stroke-linejoin="round"/><polygon points="289.31,78.20 283.56,87.10 295.06,87.10" fill="#ff0000" stroke="#ff0000" stroke-width="0.3" stroke-linejoin="round"/><polygon points="308.09,88.60 302.34,97.50 313.84,97.50" fill="#ff0000" stroke="#ff0000" stroke-width="0.3" stroke-linejoin="round"/><polygon points="326.88,85.60 321.13,94.50 332.63,94.50" fill="#ff0000" stroke="#ff0000" stroke-width="0.3" stroke-linejoin="round"/>
<line x1="157.81" y1="321.90" x2="157.81" y2="346.10" stroke="#0000ff" stroke-width="1.6"/><line x1="150.91" y1="321.90" x2="164.71" y2="321.90" stroke="#0000ff" stroke-width="1.6"/><line x1="150.91" y1="346.10" x2="164.71" y2="346.10" stroke="#0000ff" stroke-width="1.6"/><line x1="176.59" y1="385.60" x2="176.59" y2="401.00" stroke="#0000ff" stroke-width="1.6"/><line x1="169.69" y1="385.60" x2="183.49" y2="385.60" stroke="#0000ff" stroke-width="1.6"/><line x1="169.69" y1="401.00" x2="183.49" y2="401.00" stroke="#0000ff" stroke-width="1.6"/><line x1="195.38" y1="389.70" x2="195.38" y2="402.90" stroke="#0000ff" stroke-width="1.6"/><line x1="188.48" y1="389.70" x2="202.28" y2="389.70" stroke="#0000ff" stroke-width="1.6"/><line x1="188.48" y1="402.90" x2="202.28" y2="402.90" stroke="#0000ff" stroke-width="1.6"/><line x1="214.16" y1="365.80" x2="214.16" y2="378.20" stroke="#0000ff" stroke-width="1.6"/><line x1="207.26" y1="365.80" x2="221.06" y2="365.80" stroke="#0000ff" stroke-width="1.6"/><line x1="207.26" y1="378.20" x2="221.06" y2="378.20" stroke="#0000ff" stroke-width="1.6"/><line x1="232.95" y1="322.10" x2="232.95" y2="334.30" stroke="#0000ff" stroke-width="1.6"/><line x1="226.05" y1="322.10" x2="239.85" y2="322.10" stroke="#0000ff" stroke-width="1.6"/><line x1="226.05" y1="334.30" x2="239.85" y2="334.30" stroke="#0000ff" stroke-width="1.6"/><line x1="251.74" y1="280.90" x2="251.74" y2="293.50" stroke="#0000ff" stroke-width="1.6"/><line x1="244.84" y1="280.90" x2="258.63" y2="280.90" stroke="#0000ff" stroke-width="1.6"/><line x1="244.84" y1="293.50" x2="258.63" y2="293.50" stroke="#0000ff" stroke-width="1.6"/><line x1="270.52" y1="280.70" x2="270.52" y2="292.50" stroke="#0000ff" stroke-width="1.6"/><line x1="263.62" y1="280.70" x2="277.42" y2="280.70" stroke="#0000ff" stroke-width="1.6"/><line x1="263.62" y1="292.50" x2="277.42" y2="292.50" stroke="#0000ff" stroke-width="1.6"/><line x1="289.31" y1="282.00" x2="289.31" y2="293.50" stroke="#0000ff" stroke-width="1.6"/><line x1="282.41" y1="282.00" x2="296.21" y2="282.00" stroke="#0000ff" stroke-width="1.6"/><line x1="282.41" y1="293.50" x2="296.21" y2="293.50" stroke="#0000ff" stroke-width="1.6"/><line x1="308.09" y1="297.50" x2="308.09" y2="309.50" stroke="#0000ff" stroke-width="1.6"/><line x1="301.19" y1="297.50" x2="314.99" y2="297.50" stroke="#0000ff" stroke-width="1.6"/><line x1="301.19" y1="309.50" x2="314.99" y2="309.50" stroke="#0000ff" stroke-width="1.6"/><line x1="326.88" y1="305.00" x2="326.88" y2="318.40" stroke="#0000ff" stroke-width="1.6"/><line x1="319.98" y1="305.00" x2="333.78" y2="305.00" stroke="#0000ff" stroke-width="1.6"/><line x1="319.98" y1="318.40" x2="333.78" y2="318.40" stroke="#0000ff" stroke-width="1.6"/><line x1="345.67" y1="311.60" x2="345.67" y2="325.00" stroke="#0000ff" stroke-width="1.6"/><line x1="338.77" y1="311.60" x2="352.56" y2="311.60" stroke="#0000ff" stroke-width="1.6"/><line x1="338.77" y1="325.00" x2="352.56" y2="325.00" stroke="#0000ff" stroke-width="1.6"/><line x1="364.45" y1="311.30" x2="364.45" y2="324.70" stroke="#0000ff" stroke-width="1.6"/><line x1="357.55" y1="311.30" x2="371.35" y2="311.30" stroke="#0000ff" stroke-width="1.6"/><line x1="357.55" y1="324.70" x2="371.35" y2="324.70" stroke="#0000ff" stroke-width="1.6"/><line x1="383.24" y1="338.30" x2="383.24" y2="352.30" stroke="#0000ff" stroke-width="1.6"/><line x1="376.34" y1="338.30" x2="390.14" y2="338.30" stroke="#0000ff" stroke-width="1.6"/><line x1="376.34" y1="352.30" x2="390.14" y2="352.30" stroke="#0000ff" stroke-width="1.6"/><line x1="402.02" y1="345.20" x2="402.02" y2="360.20" stroke="#0000ff" stroke-width="1.6"/><line x1="395.12" y1="345.20" x2="408.92" y2="345.20" stroke="#0000ff" stroke-width="1.6"/><line x1="395.12" y1="360.20" x2="408.92" y2="360.20" stroke="#0000ff" stroke-width="1.6"/><polygon points="157.81,328.10 152.06,337.00 163.56,337.00" fill="#0000ff" stroke="#0000ff" stroke-width="0.3" stroke-linejoin="round"/><polygon points="176.59,387.40 170.84,396.30 182.34,396.30" fill="#0000ff" stroke="#0000ff" stroke-width="0.3" stroke-linejoin="round"/><polygon points="195.38,390.40 189.63,399.30 201.13,399.30" fill="#0000ff" stroke="#0000ff" stroke-width="0.3" stroke-linejoin="round"/><polygon points="214.16,366.10 208.41,375.00 219.91,375.00" fill="#0000ff" stroke="#0000ff" stroke-width="0.3" stroke-linejoin="round"/><polygon points="232.95,322.30 227.20,331.20 238.70,331.20" fill="#0000ff" stroke="#0000ff" stroke-width="0.3" stroke-linejoin="round"/><polygon points="251.74,281.30 245.99,290.20 257.49,290.20" fill="#0000ff" stroke="#0000ff" stroke-width="0.3" stroke-linejoin="round"/><polygon points="270.52,280.70 264.77,289.60 276.27,289.60" fill="#0000ff" stroke="#0000ff" stroke-width="0.3" stroke-linejoin="round"/><polygon points="289.31,281.85 283.56,290.75 295.06,290.75" fill="#0000ff" stroke="#0000ff" stroke-width="0.3" stroke-linejoin="round"/><polygon points="308.09,297.60 302.34,306.50 313.84,306.50" fill="#0000ff" stroke="#0000ff" stroke-width="0.3" stroke-linejoin="round"/><polygon points="326.88,305.80 321.13,314.70 332.63,314.70" fill="#0000ff" stroke="#0000ff" stroke-width="0.3" stroke-linejoin="round"/><polygon points="345.67,312.40 339.92,321.30 351.42,321.30" fill="#0000ff" stroke="#0000ff" stroke-width="0.3" stroke-linejoin="round"/><polygon points="364.45,312.10 358.70,321.00 370.20,321.00" fill="#0000ff" stroke="#0000ff" stroke-width="0.3" stroke-linejoin="round"/><polygon points="383.24,339.40 377.49,348.30 388.99,348.30" fill="#0000ff" stroke="#0000ff" stroke-width="0.3" stroke-linejoin="round"/><polygon points="402.02,346.80 396.27,355.70 407.77,355.70" fill="#0000ff" stroke="#0000ff" stroke-width="0.3" stroke-linejoin="round"/>
<line x1="157.81" y1="312.80" x2="157.81" y2="336.20" stroke="#000000" stroke-width="1.6"/><line x1="152.21" y1="312.80" x2="163.41" y2="312.80" stroke="#000000" stroke-width="1.6"/><line x1="152.21" y1="336.20" x2="163.41" y2="336.20" stroke="#000000" stroke-width="1.6"/><line x1="176.59" y1="366.00" x2="176.59" y2="380.60" stroke="#000000" stroke-width="1.6"/><line x1="170.99" y1="366.00" x2="182.19" y2="366.00" stroke="#000000" stroke-width="1.6"/><line x1="170.99" y1="380.60" x2="182.19" y2="380.60" stroke="#000000" stroke-width="1.6"/><line x1="195.38" y1="390.30" x2="195.38" y2="402.30" stroke="#000000" stroke-width="1.6"/><line x1="189.78" y1="390.30" x2="200.98" y2="390.30" stroke="#000000" stroke-width="1.6"/><line x1="189.78" y1="402.30" x2="200.98" y2="402.30" stroke="#000000" stroke-width="1.6"/><line x1="214.16" y1="344.70" x2="214.16" y2="357.10" stroke="#000000" stroke-width="1.6"/><line x1="208.56" y1="344.70" x2="219.76" y2="344.70" stroke="#000000" stroke-width="1.6"/><line x1="208.56" y1="357.10" x2="219.76" y2="357.10" stroke="#000000" stroke-width="1.6"/><line x1="232.95" y1="312.10" x2="232.95" y2="322.50" stroke="#000000" stroke-width="1.6"/><line x1="227.35" y1="312.10" x2="238.55" y2="312.10" stroke="#000000" stroke-width="1.6"/><line x1="227.35" y1="322.50" x2="238.55" y2="322.50" stroke="#000000" stroke-width="1.6"/><line x1="251.74" y1="283.20" x2="251.74" y2="292.20" stroke="#000000" stroke-width="1.6"/><line x1="246.14" y1="283.20" x2="257.34" y2="283.20" stroke="#000000" stroke-width="1.6"/><line x1="246.14" y1="292.20" x2="257.34" y2="292.20" stroke="#000000" stroke-width="1.6"/><line x1="270.52" y1="284.70" x2="270.52" y2="296.50" stroke="#000000" stroke-width="1.6"/><line x1="264.92" y1="284.70" x2="276.12" y2="284.70" stroke="#000000" stroke-width="1.6"/><line x1="264.92" y1="296.50" x2="276.12" y2="296.50" stroke="#000000" stroke-width="1.6"/><line x1="289.31" y1="291.50" x2="289.31" y2="304.50" stroke="#000000" stroke-width="1.6"/><line x1="283.71" y1="291.50" x2="294.91" y2="291.50" stroke="#000000" stroke-width="1.6"/><line x1="283.71" y1="304.50" x2="294.91" y2="304.50" stroke="#000000" stroke-width="1.6"/><line x1="308.09" y1="292.20" x2="308.09" y2="305.00" stroke="#000000" stroke-width="1.6"/><line x1="302.49" y1="292.20" x2="313.69" y2="292.20" stroke="#000000" stroke-width="1.6"/><line x1="302.49" y1="305.00" x2="313.69" y2="305.00" stroke="#000000" stroke-width="1.6"/><line x1="326.88" y1="307.10" x2="326.88" y2="316.30" stroke="#000000" stroke-width="1.6"/><line x1="321.28" y1="307.10" x2="332.48" y2="307.10" stroke="#000000" stroke-width="1.6"/><line x1="321.28" y1="316.30" x2="332.48" y2="316.30" stroke="#000000" stroke-width="1.6"/><line x1="345.67" y1="322.00" x2="345.67" y2="332.00" stroke="#000000" stroke-width="1.6"/><line x1="340.06" y1="322.00" x2="351.27" y2="322.00" stroke="#000000" stroke-width="1.6"/><line x1="340.06" y1="332.00" x2="351.27" y2="332.00" stroke="#000000" stroke-width="1.6"/><line x1="364.45" y1="328.30" x2="364.45" y2="340.90" stroke="#000000" stroke-width="1.6"/><line x1="358.85" y1="328.30" x2="370.05" y2="328.30" stroke="#000000" stroke-width="1.6"/><line x1="358.85" y1="340.90" x2="370.05" y2="340.90" stroke="#000000" stroke-width="1.6"/><line x1="383.24" y1="333.00" x2="383.24" y2="347.60" stroke="#000000" stroke-width="1.6"/><line x1="377.64" y1="333.00" x2="388.84" y2="333.00" stroke="#000000" stroke-width="1.6"/><line x1="377.64" y1="347.60" x2="388.84" y2="347.60" stroke="#000000" stroke-width="1.6"/><line x1="402.02" y1="345.00" x2="402.02" y2="361.00" stroke="#000000" stroke-width="1.6"/><line x1="396.42" y1="345.00" x2="407.62" y2="345.00" stroke="#000000" stroke-width="1.6"/><line x1="396.42" y1="361.00" x2="407.62" y2="361.00" stroke="#000000" stroke-width="1.6"/><rect x="154.13" y="320.82" width="7.35" height="7.35" fill="#000000"/><rect x="172.91" y="369.62" width="7.35" height="7.35" fill="#000000"/><rect x="191.70" y="392.62" width="7.35" height="7.35" fill="#000000"/><rect x="210.49" y="347.22" width="7.35" height="7.35" fill="#000000"/><rect x="229.27" y="313.62" width="7.35" height="7.35" fill="#000000"/><rect x="248.06" y="284.02" width="7.35" height="7.35" fill="#000000"/><rect x="266.84" y="286.92" width="7.35" height="7.35" fill="#000000"/><rect x="285.63" y="294.32" width="7.35" height="7.35" fill="#000000"/><rect x="304.42" y="294.92" width="7.35" height="7.35" fill="#000000"/><rect x="323.20" y="308.02" width="7.35" height="7.35" fill="#000000"/><rect x="341.99" y="323.32" width="7.35" height="7.35" fill="#000000"/><rect x="360.77" y="330.92" width="7.35" height="7.35" fill="#000000"/><rect x="379.56" y="336.62" width="7.35" height="7.35" fill="#000000"/><rect x="398.35" y="349.32" width="7.35" height="7.35" fill="#000000"/>
<line x1="157.81" y1="552.30" x2="157.81" y2="566.30" stroke="#0000ff" stroke-width="1.6"/><line x1="150.91" y1="552.30" x2="164.71" y2="552.30" stroke="#0000ff" stroke-width="1.6"/><line x1="150.91" y1="566.30" x2="164.71" y2="566.30" stroke="#0000ff" stroke-width="1.6"/><line x1="176.59" y1="585.45" x2="176.59" y2="596.95" stroke="#0000ff" stroke-width="1.6"/><line x1="169.69" y1="585.45" x2="183.49" y2="585.45" stroke="#0000ff" stroke-width="1.6"/><line x1="169.69" y1="596.95" x2="183.49" y2="596.95" stroke="#0000ff" stroke-width="1.6"/><line x1="195.38" y1="602.35" x2="195.38" y2="611.35" stroke="#0000ff" stroke-width="1.6"/><line x1="188.48" y1="602.35" x2="202.28" y2="602.35" stroke="#0000ff" stroke-width="1.6"/><line x1="188.48" y1="611.35" x2="202.28" y2="611.35" stroke="#0000ff" stroke-width="1.6"/><line x1="214.16" y1="578.40" x2="214.16" y2="584.40" stroke="#0000ff" stroke-width="1.6"/><line x1="207.26" y1="578.40" x2="221.06" y2="578.40" stroke="#0000ff" stroke-width="1.6"/><line x1="207.26" y1="584.40" x2="221.06" y2="584.40" stroke="#0000ff" stroke-width="1.6"/><line x1="232.95" y1="540.00" x2="232.95" y2="548.80" stroke="#0000ff" stroke-width="1.6"/><line x1="226.05" y1="540.00" x2="239.85" y2="540.00" stroke="#0000ff" stroke-width="1.6"/><line x1="226.05" y1="548.80" x2="239.85" y2="548.80" stroke="#0000ff" stroke-width="1.6"/><line x1="251.74" y1="507.00" x2="251.74" y2="517.00" stroke="#0000ff" stroke-width="1.6"/><line x1="244.84" y1="507.00" x2="258.63" y2="507.00" stroke="#0000ff" stroke-width="1.6"/><line x1="244.84" y1="517.00" x2="258.63" y2="517.00" stroke="#0000ff" stroke-width="1.6"/><line x1="270.52" y1="494.50" x2="270.52" y2="502.50" stroke="#0000ff" stroke-width="1.6"/><line x1="263.62" y1="494.50" x2="277.42" y2="494.50" stroke="#0000ff" stroke-width="1.6"/><line x1="263.62" y1="502.50" x2="277.42" y2="502.50" stroke="#0000ff" stroke-width="1.6"/><line x1="289.31" y1="506.50" x2="289.31" y2="514.50" stroke="#0000ff" stroke-width="1.6"/><line x1="282.41" y1="506.50" x2="296.21" y2="506.50" stroke="#0000ff" stroke-width="1.6"/><line x1="282.41" y1="514.50" x2="296.21" y2="514.50" stroke="#0000ff" stroke-width="1.6"/><line x1="308.09" y1="517.00" x2="308.09" y2="525.00" stroke="#0000ff" stroke-width="1.6"/><line x1="301.19" y1="517.00" x2="314.99" y2="517.00" stroke="#0000ff" stroke-width="1.6"/><line x1="301.19" y1="525.00" x2="314.99" y2="525.00" stroke="#0000ff" stroke-width="1.6"/><line x1="326.88" y1="519.80" x2="326.88" y2="527.60" stroke="#0000ff" stroke-width="1.6"/><line x1="319.98" y1="519.80" x2="333.78" y2="519.80" stroke="#0000ff" stroke-width="1.6"/><line x1="319.98" y1="527.60" x2="333.78" y2="527.60" stroke="#0000ff" stroke-width="1.6"/><line x1="345.67" y1="540.00" x2="345.67" y2="552.00" stroke="#0000ff" stroke-width="1.6"/><line x1="338.77" y1="540.00" x2="352.56" y2="540.00" stroke="#0000ff" stroke-width="1.6"/><line x1="338.77" y1="552.00" x2="352.56" y2="552.00" stroke="#0000ff" stroke-width="1.6"/><line x1="364.45" y1="542.00" x2="364.45" y2="554.00" stroke="#0000ff" stroke-width="1.6"/><line x1="357.55" y1="542.00" x2="371.35" y2="542.00" stroke="#0000ff" stroke-width="1.6"/><line x1="357.55" y1="554.00" x2="371.35" y2="554.00" stroke="#0000ff" stroke-width="1.6"/><line x1="383.24" y1="548.50" x2="383.24" y2="560.50" stroke="#0000ff" stroke-width="1.6"/><line x1="376.34" y1="548.50" x2="390.14" y2="548.50" stroke="#0000ff" stroke-width="1.6"/><line x1="376.34" y1="560.50" x2="390.14" y2="560.50" stroke="#0000ff" stroke-width="1.6"/><line x1="402.02" y1="561.50" x2="402.02" y2="577.50" stroke="#0000ff" stroke-width="1.6"/><line x1="395.12" y1="561.50" x2="408.92" y2="561.50" stroke="#0000ff" stroke-width="1.6"/><line x1="395.12" y1="577.50" x2="408.92" y2="577.50" stroke="#0000ff" stroke-width="1.6"/><line x1="420.81" y1="556.40" x2="420.81" y2="572.00" stroke="#0000ff" stroke-width="1.6"/><line x1="413.91" y1="556.40" x2="427.71" y2="556.40" stroke="#0000ff" stroke-width="1.6"/><line x1="413.91" y1="572.00" x2="427.71" y2="572.00" stroke="#0000ff" stroke-width="1.6"/><line x1="439.60" y1="573.70" x2="439.60" y2="591.70" stroke="#0000ff" stroke-width="1.6"/><line x1="432.70" y1="573.70" x2="446.50" y2="573.70" stroke="#0000ff" stroke-width="1.6"/><line x1="432.70" y1="591.70" x2="446.50" y2="591.70" stroke="#0000ff" stroke-width="1.6"/><line x1="458.38" y1="572.00" x2="458.38" y2="591.60" stroke="#0000ff" stroke-width="1.6"/><line x1="451.48" y1="572.00" x2="465.28" y2="572.00" stroke="#0000ff" stroke-width="1.6"/><line x1="451.48" y1="591.60" x2="465.28" y2="591.60" stroke="#0000ff" stroke-width="1.6"/><line x1="477.17" y1="561.30" x2="477.17" y2="584.30" stroke="#0000ff" stroke-width="1.6"/><line x1="470.27" y1="561.30" x2="484.07" y2="561.30" stroke="#0000ff" stroke-width="1.6"/><line x1="470.27" y1="584.30" x2="484.07" y2="584.30" stroke="#0000ff" stroke-width="1.6"/><line x1="495.95" y1="571.40" x2="495.95" y2="598.20" stroke="#0000ff" stroke-width="1.6"/><line x1="489.05" y1="571.40" x2="502.85" y2="571.40" stroke="#0000ff" stroke-width="1.6"/><line x1="489.05" y1="598.20" x2="502.85" y2="598.20" stroke="#0000ff" stroke-width="1.6"/><line x1="514.74" y1="565.80" x2="514.74" y2="607.80" stroke="#0000ff" stroke-width="1.6"/><line x1="507.84" y1="565.80" x2="521.64" y2="565.80" stroke="#0000ff" stroke-width="1.6"/><line x1="507.84" y1="607.80" x2="521.64" y2="607.80" stroke="#0000ff" stroke-width="1.6"/><line x1="533.53" y1="556.90" x2="533.53" y2="609.90" stroke="#0000ff" stroke-width="1.6"/><line x1="526.63" y1="556.90" x2="540.43" y2="556.90" stroke="#0000ff" stroke-width="1.6"/><line x1="526.63" y1="609.90" x2="540.43" y2="609.90" stroke="#0000ff" stroke-width="1.6"/><line x1="552.31" y1="543.50" x2="552.31" y2="618.10" stroke="#0000ff" stroke-width="1.6"/><line x1="545.41" y1="543.50" x2="559.21" y2="543.50" stroke="#0000ff" stroke-width="1.6"/><line x1="545.41" y1="618.10" x2="559.21" y2="618.10" stroke="#0000ff" stroke-width="1.6"/><line x1="571.10" y1="517.40" x2="571.10" y2="651.80" stroke="#0000ff" stroke-width="1.6"/><line x1="564.20" y1="517.40" x2="578.00" y2="517.40" stroke="#0000ff" stroke-width="1.6"/><polygon points="157.81,553.40 152.06,562.30 163.56,562.30" fill="#0000ff" stroke="#0000ff" stroke-width="0.3" stroke-linejoin="round"/><polygon points="176.59,585.30 170.84,594.20 182.34,594.20" fill="#0000ff" stroke="#0000ff" stroke-width="0.3" stroke-linejoin="round"/><polygon points="195.38,600.95 189.63,609.85 201.13,609.85" fill="#0000ff" stroke="#0000ff" stroke-width="0.3" stroke-linejoin="round"/><polygon points="214.16,575.50 208.41,584.40 219.91,584.40" fill="#0000ff" stroke="#0000ff" stroke-width="0.3" stroke-linejoin="round"/><polygon points="232.95,538.50 227.20,547.40 238.70,547.40" fill="#0000ff" stroke="#0000ff" stroke-width="0.3" stroke-linejoin="round"/><polygon points="251.74,506.10 245.99,515.00 257.49,515.00" fill="#0000ff" stroke="#0000ff" stroke-width="0.3" stroke-linejoin="round"/><polygon points="270.52,492.60 264.77,501.50 276.27,501.50" fill="#0000ff" stroke="#0000ff" stroke-width="0.3" stroke-linejoin="round"/><polygon points="289.31,504.60 283.56,513.50 295.06,513.50" fill="#0000ff" stroke="#0000ff" stroke-width="0.3" stroke-linejoin="round"/><polygon points="308.09,515.10 302.34,524.00 313.84,524.00" fill="#0000ff" stroke="#0000ff" stroke-width="0.3" stroke-linejoin="round"/><polygon points="326.88,517.80 321.13,526.70 332.63,526.70" fill="#0000ff" stroke="#0000ff" stroke-width="0.3" stroke-linejoin="round"/><polygon points="345.67,540.10 339.92,549.00 351.42,549.00" fill="#0000ff" stroke="#0000ff" stroke-width="0.3" stroke-linejoin="round"/><polygon points="364.45,542.10 358.70,551.00 370.20,551.00" fill="#0000ff" stroke="#0000ff" stroke-width="0.3" stroke-linejoin="round"/><polygon points="383.24,548.60 377.49,557.50 388.99,557.50" fill="#0000ff" stroke="#0000ff" stroke-width="0.3" stroke-linejoin="round"/><polygon points="402.02,563.60 396.27,572.50 407.77,572.50" fill="#0000ff" stroke="#0000ff" stroke-width="0.3" stroke-linejoin="round"/><polygon points="420.81,558.30 415.06,567.20 426.56,567.20" fill="#0000ff" stroke="#0000ff" stroke-width="0.3" stroke-linejoin="round"/><polygon points="439.60,576.80 433.85,585.70 445.35,585.70" fill="#0000ff" stroke="#0000ff" stroke-width="0.3" stroke-linejoin="round"/><polygon points="458.38,575.90 452.63,584.80 464.13,584.80" fill="#0000ff" stroke="#0000ff" stroke-width="0.3" stroke-linejoin="round"/><polygon points="477.17,566.90 471.42,575.80 482.92,575.80" fill="#0000ff" stroke="#0000ff" stroke-width="0.3" stroke-linejoin="round"/><polygon points="495.95,578.90 490.20,587.80 501.70,587.80" fill="#0000ff" stroke="#0000ff" stroke-width="0.3" stroke-linejoin="round"/><polygon points="514.74,580.90 508.99,589.80 520.49,589.80" fill="#0000ff" stroke="#0000ff" stroke-width="0.3" stroke-linejoin="round"/><polygon points="533.53,577.50 527.78,586.40 539.28,586.40" fill="#0000ff" stroke="#0000ff" stroke-width="0.3" stroke-linejoin="round"/><polygon points="552.31,574.90 546.56,583.80 558.06,583.80" fill="#0000ff" stroke="#0000ff" stroke-width="0.3" stroke-linejoin="round"/>
<line x1="139.02" y1="514.20" x2="139.02" y2="539.20" stroke="#000000" stroke-width="1.6"/><line x1="132.12" y1="514.20" x2="145.92" y2="514.20" stroke="#000000" stroke-width="1.6"/><line x1="132.12" y1="539.20" x2="145.92" y2="539.20" stroke="#000000" stroke-width="1.6"/><line x1="157.81" y1="542.00" x2="157.81" y2="556.60" stroke="#000000" stroke-width="1.6"/><line x1="150.91" y1="542.00" x2="164.71" y2="542.00" stroke="#000000" stroke-width="1.6"/><line x1="150.91" y1="556.60" x2="164.71" y2="556.60" stroke="#000000" stroke-width="1.6"/><line x1="176.59" y1="572.70" x2="176.59" y2="583.30" stroke="#000000" stroke-width="1.6"/><line x1="169.69" y1="572.70" x2="183.49" y2="572.70" stroke="#000000" stroke-width="1.6"/><line x1="169.69" y1="583.30" x2="183.49" y2="583.30" stroke="#000000" stroke-width="1.6"/><line x1="195.38" y1="602.00" x2="195.38" y2="611.80" stroke="#000000" stroke-width="1.6"/><line x1="188.48" y1="602.00" x2="202.28" y2="602.00" stroke="#000000" stroke-width="1.6"/><line x1="188.48" y1="611.80" x2="202.28" y2="611.80" stroke="#000000" stroke-width="1.6"/><line x1="214.16" y1="568.30" x2="214.16" y2="575.90" stroke="#000000" stroke-width="1.6"/><line x1="207.26" y1="568.30" x2="221.06" y2="568.30" stroke="#000000" stroke-width="1.6"/><line x1="207.26" y1="575.90" x2="221.06" y2="575.90" stroke="#000000" stroke-width="1.6"/><line x1="232.95" y1="540.00" x2="232.95" y2="548.00" stroke="#000000" stroke-width="1.6"/><line x1="226.05" y1="540.00" x2="239.85" y2="540.00" stroke="#000000" stroke-width="1.6"/><line x1="226.05" y1="548.00" x2="239.85" y2="548.00" stroke="#000000" stroke-width="1.6"/><line x1="251.74" y1="511.50" x2="251.74" y2="519.50" stroke="#000000" stroke-width="1.6"/><line x1="244.84" y1="511.50" x2="258.63" y2="511.50" stroke="#000000" stroke-width="1.6"/><line x1="244.84" y1="519.50" x2="258.63" y2="519.50" stroke="#000000" stroke-width="1.6"/><line x1="270.52" y1="505.00" x2="270.52" y2="513.00" stroke="#000000" stroke-width="1.6"/><line x1="263.62" y1="505.00" x2="277.42" y2="505.00" stroke="#000000" stroke-width="1.6"/><line x1="263.62" y1="513.00" x2="277.42" y2="513.00" stroke="#000000" stroke-width="1.6"/><line x1="289.31" y1="512.80" x2="289.31" y2="521.80" stroke="#000000" stroke-width="1.6"/><line x1="282.41" y1="512.80" x2="296.21" y2="512.80" stroke="#000000" stroke-width="1.6"/><line x1="282.41" y1="521.80" x2="296.21" y2="521.80" stroke="#000000" stroke-width="1.6"/><line x1="308.09" y1="516.30" x2="308.09" y2="525.30" stroke="#000000" stroke-width="1.6"/><line x1="301.19" y1="516.30" x2="314.99" y2="516.30" stroke="#000000" stroke-width="1.6"/><line x1="301.19" y1="525.30" x2="314.99" y2="525.30" stroke="#000000" stroke-width="1.6"/><line x1="326.88" y1="525.50" x2="326.88" y2="533.50" stroke="#000000" stroke-width="1.6"/><line x1="319.98" y1="525.50" x2="333.78" y2="525.50" stroke="#000000" stroke-width="1.6"/><line x1="319.98" y1="533.50" x2="333.78" y2="533.50" stroke="#000000" stroke-width="1.6"/><line x1="345.67" y1="540.00" x2="345.67" y2="551.40" stroke="#000000" stroke-width="1.6"/><line x1="338.77" y1="540.00" x2="352.56" y2="540.00" stroke="#000000" stroke-width="1.6"/><line x1="338.77" y1="551.40" x2="352.56" y2="551.40" stroke="#000000" stroke-width="1.6"/><line x1="364.45" y1="543.90" x2="364.45" y2="554.90" stroke="#000000" stroke-width="1.6"/><line x1="357.55" y1="543.90" x2="371.35" y2="543.90" stroke="#000000" stroke-width="1.6"/><line x1="357.55" y1="554.90" x2="371.35" y2="554.90" stroke="#000000" stroke-width="1.6"/><line x1="383.24" y1="547.60" x2="383.24" y2="560.00" stroke="#000000" stroke-width="1.6"/><line x1="376.34" y1="547.60" x2="390.14" y2="547.60" stroke="#000000" stroke-width="1.6"/><line x1="376.34" y1="560.00" x2="390.14" y2="560.00" stroke="#000000" stroke-width="1.6"/><line x1="402.02" y1="562.50" x2="402.02" y2="575.10" stroke="#000000" stroke-width="1.6"/><line x1="395.12" y1="562.50" x2="408.92" y2="562.50" stroke="#000000" stroke-width="1.6"/><line x1="395.12" y1="575.10" x2="408.92" y2="575.10" stroke="#000000" stroke-width="1.6"/><line x1="420.81" y1="565.30" x2="420.81" y2="579.70" stroke="#000000" stroke-width="1.6"/><line x1="413.91" y1="565.30" x2="427.71" y2="565.30" stroke="#000000" stroke-width="1.6"/><line x1="413.91" y1="579.70" x2="427.71" y2="579.70" stroke="#000000" stroke-width="1.6"/><line x1="439.60" y1="560.80" x2="439.60" y2="578.00" stroke="#000000" stroke-width="1.6"/><line x1="432.70" y1="560.80" x2="446.50" y2="560.80" stroke="#000000" stroke-width="1.6"/><line x1="432.70" y1="578.00" x2="446.50" y2="578.00" stroke="#000000" stroke-width="1.6"/><line x1="458.38" y1="580.00" x2="458.38" y2="598.60" stroke="#000000" stroke-width="1.6"/><line x1="451.48" y1="580.00" x2="465.28" y2="580.00" stroke="#000000" stroke-width="1.6"/><line x1="451.48" y1="598.60" x2="465.28" y2="598.60" stroke="#000000" stroke-width="1.6"/><line x1="477.17" y1="571.40" x2="477.17" y2="593.60" stroke="#000000" stroke-width="1.6"/><line x1="470.27" y1="571.40" x2="484.07" y2="571.40" stroke="#000000" stroke-width="1.6"/><line x1="470.27" y1="593.60" x2="484.07" y2="593.60" stroke="#000000" stroke-width="1.6"/><line x1="495.95" y1="553.10" x2="495.95" y2="584.70" stroke="#000000" stroke-width="1.6"/><line x1="489.05" y1="553.10" x2="502.85" y2="553.10" stroke="#000000" stroke-width="1.6"/><line x1="489.05" y1="584.70" x2="502.85" y2="584.70" stroke="#000000" stroke-width="1.6"/><line x1="514.74" y1="537.90" x2="514.74" y2="577.70" stroke="#000000" stroke-width="1.6"/><line x1="507.84" y1="537.90" x2="521.64" y2="537.90" stroke="#000000" stroke-width="1.6"/><line x1="507.84" y1="577.70" x2="521.64" y2="577.70" stroke="#000000" stroke-width="1.6"/><line x1="533.53" y1="520.10" x2="533.53" y2="570.90" stroke="#000000" stroke-width="1.6"/><line x1="526.63" y1="520.10" x2="540.43" y2="520.10" stroke="#000000" stroke-width="1.6"/><line x1="526.63" y1="570.90" x2="540.43" y2="570.90" stroke="#000000" stroke-width="1.6"/><line x1="552.31" y1="519.00" x2="552.31" y2="589.20" stroke="#000000" stroke-width="1.6"/><line x1="545.41" y1="519.00" x2="559.21" y2="519.00" stroke="#000000" stroke-width="1.6"/><line x1="545.41" y1="589.20" x2="559.21" y2="589.20" stroke="#000000" stroke-width="1.6"/><rect x="134.07" y="521.75" width="9.90" height="9.90" fill="#000000"/><rect x="152.86" y="544.35" width="9.90" height="9.90" fill="#000000"/><rect x="171.64" y="573.05" width="9.90" height="9.90" fill="#000000"/><rect x="190.43" y="601.95" width="9.90" height="9.90" fill="#000000"/><rect x="209.21" y="567.15" width="9.90" height="9.90" fill="#000000"/><rect x="228.00" y="539.05" width="9.90" height="9.90" fill="#000000"/><rect x="246.79" y="510.55" width="9.90" height="9.90" fill="#000000"/><rect x="265.57" y="504.05" width="9.90" height="9.90" fill="#000000"/><rect x="284.36" y="512.35" width="9.90" height="9.90" fill="#000000"/><rect x="303.14" y="515.85" width="9.90" height="9.90" fill="#000000"/><rect x="321.93" y="524.55" width="9.90" height="9.90" fill="#000000"/><rect x="340.72" y="540.75" width="9.90" height="9.90" fill="#000000"/><rect x="359.50" y="544.45" width="9.90" height="9.90" fill="#000000"/><rect x="378.29" y="548.85" width="9.90" height="9.90" fill="#000000"/><rect x="397.07" y="563.85" width="9.90" height="9.90" fill="#000000"/><rect x="415.86" y="567.55" width="9.90" height="9.90" fill="#000000"/><rect x="434.65" y="564.45" width="9.90" height="9.90" fill="#000000"/><rect x="453.43" y="584.35" width="9.90" height="9.90" fill="#000000"/><rect x="472.22" y="577.55" width="9.90" height="9.90" fill="#000000"/><rect x="491.00" y="563.95" width="9.90" height="9.90" fill="#000000"/><rect x="509.79" y="552.85" width="9.90" height="9.90" fill="#000000"/><rect x="528.58" y="540.55" width="9.90" height="9.90" fill="#000000"/><rect x="547.36" y="549.15" width="9.90" height="9.90" fill="#000000"/>
<line x1="157.81" y1="508.30" x2="157.81" y2="523.50" stroke="#ff0000" stroke-width="1.6"/><line x1="152.06" y1="508.30" x2="163.56" y2="508.30" stroke="#ff0000" stroke-width="1.6"/><line x1="152.06" y1="523.50" x2="163.56" y2="523.50" stroke="#ff0000" stroke-width="1.6"/><line x1="176.59" y1="526.30" x2="176.59" y2="537.10" stroke="#ff0000" stroke-width="1.6"/><line x1="170.84" y1="526.30" x2="182.34" y2="526.30" stroke="#ff0000" stroke-width="1.6"/><line x1="170.84" y1="537.10" x2="182.34" y2="537.10" stroke="#ff0000" stroke-width="1.6"/><line x1="195.38" y1="547.50" x2="195.38" y2="556.90" stroke="#ff0000" stroke-width="1.6"/><line x1="189.63" y1="547.50" x2="201.13" y2="547.50" stroke="#ff0000" stroke-width="1.6"/><line x1="189.63" y1="556.90" x2="201.13" y2="556.90" stroke="#ff0000" stroke-width="1.6"/><line x1="214.16" y1="521.80" x2="214.16" y2="530.00" stroke="#ff0000" stroke-width="1.6"/><line x1="208.41" y1="521.80" x2="219.91" y2="521.80" stroke="#ff0000" stroke-width="1.6"/><line x1="208.41" y1="530.00" x2="219.91" y2="530.00" stroke="#ff0000" stroke-width="1.6"/><line x1="232.95" y1="492.00" x2="232.95" y2="499.80" stroke="#ff0000" stroke-width="1.6"/><line x1="227.20" y1="492.00" x2="238.70" y2="492.00" stroke="#ff0000" stroke-width="1.6"/><line x1="227.20" y1="499.80" x2="238.70" y2="499.80" stroke="#ff0000" stroke-width="1.6"/><line x1="251.74" y1="466.50" x2="251.74" y2="474.50" stroke="#ff0000" stroke-width="1.6"/><line x1="245.99" y1="466.50" x2="257.49" y2="466.50" stroke="#ff0000" stroke-width="1.6"/><line x1="245.99" y1="474.50" x2="257.49" y2="474.50" stroke="#ff0000" stroke-width="1.6"/><line x1="270.52" y1="466.30" x2="270.52" y2="474.70" stroke="#ff0000" stroke-width="1.6"/><line x1="264.77" y1="466.30" x2="276.27" y2="466.30" stroke="#ff0000" stroke-width="1.6"/><line x1="264.77" y1="474.70" x2="276.27" y2="474.70" stroke="#ff0000" stroke-width="1.6"/><line x1="289.31" y1="472.60" x2="289.31" y2="481.00" stroke="#ff0000" stroke-width="1.6"/><line x1="283.56" y1="472.60" x2="295.06" y2="472.60" stroke="#ff0000" stroke-width="1.6"/><line x1="283.56" y1="481.00" x2="295.06" y2="481.00" stroke="#ff0000" stroke-width="1.6"/><line x1="308.09" y1="479.60" x2="308.09" y2="487.60" stroke="#ff0000" stroke-width="1.6"/><line x1="302.34" y1="479.60" x2="313.84" y2="479.60" stroke="#ff0000" stroke-width="1.6"/><line x1="302.34" y1="487.60" x2="313.84" y2="487.60" stroke="#ff0000" stroke-width="1.6"/><line x1="326.88" y1="495.20" x2="326.88" y2="503.80" stroke="#ff0000" stroke-width="1.6"/><line x1="321.13" y1="495.20" x2="332.63" y2="495.20" stroke="#ff0000" stroke-width="1.6"/><line x1="321.13" y1="503.80" x2="332.63" y2="503.80" stroke="#ff0000" stroke-width="1.6"/><line x1="345.67" y1="507.10" x2="345.67" y2="517.10" stroke="#ff0000" stroke-width="1.6"/><line x1="339.92" y1="507.10" x2="351.42" y2="507.10" stroke="#ff0000" stroke-width="1.6"/><line x1="339.92" y1="517.10" x2="351.42" y2="517.10" stroke="#ff0000" stroke-width="1.6"/><line x1="364.45" y1="499.80" x2="364.45" y2="510.60" stroke="#ff0000" stroke-width="1.6"/><line x1="358.70" y1="499.80" x2="370.20" y2="499.80" stroke="#ff0000" stroke-width="1.6"/><line x1="358.70" y1="510.60" x2="370.20" y2="510.60" stroke="#ff0000" stroke-width="1.6"/><line x1="383.24" y1="528.70" x2="383.24" y2="541.30" stroke="#ff0000" stroke-width="1.6"/><line x1="377.49" y1="528.70" x2="388.99" y2="528.70" stroke="#ff0000" stroke-width="1.6"/><line x1="377.49" y1="541.30" x2="388.99" y2="541.30" stroke="#ff0000" stroke-width="1.6"/><line x1="402.02" y1="532.50" x2="402.02" y2="546.30" stroke="#ff0000" stroke-width="1.6"/><line x1="396.27" y1="532.50" x2="407.77" y2="532.50" stroke="#ff0000" stroke-width="1.6"/><line x1="396.27" y1="546.30" x2="407.77" y2="546.30" stroke="#ff0000" stroke-width="1.6"/><line x1="420.81" y1="540.70" x2="420.81" y2="555.30" stroke="#ff0000" stroke-width="1.6"/><line x1="415.06" y1="540.70" x2="426.56" y2="540.70" stroke="#ff0000" stroke-width="1.6"/><line x1="415.06" y1="555.30" x2="426.56" y2="555.30" stroke="#ff0000" stroke-width="1.6"/><line x1="439.60" y1="547.50" x2="439.60" y2="560.90" stroke="#ff0000" stroke-width="1.6"/><line x1="433.85" y1="547.50" x2="445.35" y2="547.50" stroke="#ff0000" stroke-width="1.6"/><line x1="433.85" y1="560.90" x2="445.35" y2="560.90" stroke="#ff0000" stroke-width="1.6"/><line x1="458.38" y1="541.70" x2="458.38" y2="560.90" stroke="#ff0000" stroke-width="1.6"/><line x1="452.63" y1="541.70" x2="464.13" y2="541.70" stroke="#ff0000" stroke-width="1.6"/><line x1="452.63" y1="560.90" x2="464.13" y2="560.90" stroke="#ff0000" stroke-width="1.6"/><line x1="477.17" y1="562.90" x2="477.17" y2="583.50" stroke="#ff0000" stroke-width="1.6"/><line x1="471.42" y1="562.90" x2="482.92" y2="562.90" stroke="#ff0000" stroke-width="1.6"/><line x1="471.42" y1="583.50" x2="482.92" y2="583.50" stroke="#ff0000" stroke-width="1.6"/><line x1="495.95" y1="504.50" x2="495.95" y2="537.50" stroke="#ff0000" stroke-width="1.6"/><line x1="490.20" y1="504.50" x2="501.70" y2="504.50" stroke="#ff0000" stroke-width="1.6"/><line x1="490.20" y1="537.50" x2="501.70" y2="537.50" stroke="#ff0000" stroke-width="1.6"/><line x1="514.74" y1="516.10" x2="514.74" y2="556.10" stroke="#ff0000" stroke-width="1.6"/><line x1="508.99" y1="516.10" x2="520.49" y2="516.10" stroke="#ff0000" stroke-width="1.6"/><line x1="508.99" y1="556.10" x2="520.49" y2="556.10" stroke="#ff0000" stroke-width="1.6"/><line x1="533.53" y1="515.10" x2="533.53" y2="566.90" stroke="#ff0000" stroke-width="1.6"/><line x1="527.78" y1="515.10" x2="539.28" y2="515.10" stroke="#ff0000" stroke-width="1.6"/><line x1="527.78" y1="566.90" x2="539.28" y2="566.90" stroke="#ff0000" stroke-width="1.6"/><line x1="552.31" y1="509.00" x2="552.31" y2="583.60" stroke="#ff0000" stroke-width="1.6"/><line x1="546.56" y1="509.00" x2="558.06" y2="509.00" stroke="#ff0000" stroke-width="1.6"/><line x1="546.56" y1="583.60" x2="558.06" y2="583.60" stroke="#ff0000" stroke-width="1.6"/><polygon points="157.81,510.27 152.32,518.76 163.29,518.76" fill="#ff0000" stroke="#ff0000" stroke-width="0.3" stroke-linejoin="round"/><polygon points="176.59,526.07 171.10,534.56 182.08,534.56" fill="#ff0000" stroke="#ff0000" stroke-width="0.3" stroke-linejoin="round"/><polygon points="195.38,546.57 189.89,555.06 200.87,555.06" fill="#ff0000" stroke="#ff0000" stroke-width="0.3" stroke-linejoin="round"/><polygon points="214.16,520.27 208.67,528.76 219.65,528.76" fill="#ff0000" stroke="#ff0000" stroke-width="0.3" stroke-linejoin="round"/><polygon points="232.95,490.27 227.46,498.76 238.44,498.76" fill="#ff0000" stroke="#ff0000" stroke-width="0.3" stroke-linejoin="round"/><polygon points="251.74,464.87 246.25,473.36 257.22,473.36" fill="#ff0000" stroke="#ff0000" stroke-width="0.3" stroke-linejoin="round"/><polygon points="270.52,464.87 265.03,473.36 276.01,473.36" fill="#ff0000" stroke="#ff0000" stroke-width="0.3" stroke-linejoin="round"/><polygon points="289.31,471.17 283.82,479.66 294.80,479.66" fill="#ff0000" stroke="#ff0000" stroke-width="0.3" stroke-linejoin="round"/><polygon points="308.09,477.97 302.60,486.46 313.58,486.46" fill="#ff0000" stroke="#ff0000" stroke-width="0.3" stroke-linejoin="round"/><polygon points="326.88,493.87 321.39,502.36 332.37,502.36" fill="#ff0000" stroke="#ff0000" stroke-width="0.3" stroke-linejoin="round"/><polygon points="345.67,506.47 340.18,514.96 351.15,514.96" fill="#ff0000" stroke="#ff0000" stroke-width="0.3" stroke-linejoin="round"/><polygon points="364.45,499.57 358.96,508.06 369.94,508.06" fill="#ff0000" stroke="#ff0000" stroke-width="0.3" stroke-linejoin="round"/><polygon points="383.24,529.37 377.75,537.86 388.73,537.86" fill="#ff0000" stroke="#ff0000" stroke-width="0.3" stroke-linejoin="round"/><polygon points="402.02,533.77 396.53,542.26 407.51,542.26" fill="#ff0000" stroke="#ff0000" stroke-width="0.3" stroke-linejoin="round"/><polygon points="420.81,542.37 415.32,550.86 426.30,550.86" fill="#ff0000" stroke="#ff0000" stroke-width="0.3" stroke-linejoin="round"/><polygon points="439.60,548.57 434.11,557.06 445.08,557.06" fill="#ff0000" stroke="#ff0000" stroke-width="0.3" stroke-linejoin="round"/><polygon points="458.38,545.67 452.89,554.16 463.87,554.16" fill="#ff0000" stroke="#ff0000" stroke-width="0.3" stroke-linejoin="round"/><polygon points="477.17,567.57 471.68,576.06 482.66,576.06" fill="#ff0000" stroke="#ff0000" stroke-width="0.3" stroke-linejoin="round"/><polygon points="495.95,515.37 490.46,523.86 501.44,523.86" fill="#ff0000" stroke="#ff0000" stroke-width="0.3" stroke-linejoin="round"/><polygon points="514.74,530.47 509.25,538.96 520.23,538.96" fill="#ff0000" stroke="#ff0000" stroke-width="0.3" stroke-linejoin="round"/><polygon points="533.53,535.37 528.04,543.86 539.01,543.86" fill="#ff0000" stroke="#ff0000" stroke-width="0.3" stroke-linejoin="round"/><polygon points="552.31,540.67 546.82,549.16 557.80,549.16" fill="#ff0000" stroke="#ff0000" stroke-width="0.3" stroke-linejoin="round"/>
<g class="lbl" style="opacity:0.999">
<text x="66.10" y="46.60" text-anchor="middle" class="t" style="font-size:27.0px" transform="translate(66.10,0) scale(1.03,1) translate(-66.10,0)">0</text>
<text x="77.10" y="46.60" text-anchor="middle" class="t" style="font-size:27.0px">.</text>
<text x="88.30" y="46.60" text-anchor="middle" class="t" style="font-size:27.0px" transform="translate(88.30,0) scale(0.8,1) translate(-88.30,0)">1</text>
<text x="89.00" y="118.80" text-anchor="middle" class="t" style="font-size:27.0px" transform="translate(89.00,0) scale(1.03,1) translate(-89.00,0)">0</text>
<line x1="41.65" y1="183.70" x2="54.15" y2="183.70" stroke="#000" stroke-width="1.8" stroke-linecap="round"/>
<text x="64.95" y="191.00" text-anchor="middle" class="t" style="font-size:27.0px" transform="translate(64.95,0) scale(1.03,1) translate(-64.95,0)">0</text>
<text x="76.50" y="191.00" text-anchor="middle" class="t" style="font-size:27.0px">.</text>
<text x="87.60" y="191.00" text-anchor="middle" class="t" style="font-size:27.0px" transform="translate(87.60,0) scale(0.8,1) translate(-87.60,0)">1</text>
<text transform="translate(21.0,110.20) rotate(-90) scale(0.78,1)" text-anchor="middle" class="ax" style="font-size:32px">A</text>
<text x="66.10" y="263.10" text-anchor="middle" class="t" style="font-size:27.0px" transform="translate(66.10,0) scale(1.03,1) translate(-66.10,0)">0</text>
<text x="77.10" y="263.10" text-anchor="middle" class="t" style="font-size:27.0px">.</text>
<text x="88.30" y="263.10" text-anchor="middle" class="t" style="font-size:27.0px" transform="translate(88.30,0) scale(0.8,1) translate(-88.30,0)">1</text>
<text x="89.00" y="335.30" text-anchor="middle" class="t" style="font-size:27.0px" transform="translate(89.00,0) scale(1.03,1) translate(-89.00,0)">0</text>
<line x1="41.65" y1="400.20" x2="54.15" y2="400.20" stroke="#000" stroke-width="1.8" stroke-linecap="round"/>
<text x="64.95" y="407.50" text-anchor="middle" class="t" style="font-size:27.0px" transform="translate(64.95,0) scale(1.03,1) translate(-64.95,0)">0</text>
<text x="76.50" y="407.50" text-anchor="middle" class="t" style="font-size:27.0px">.</text>
<text x="87.60" y="407.50" text-anchor="middle" class="t" style="font-size:27.0px" transform="translate(87.60,0) scale(0.8,1) translate(-87.60,0)">1</text>
<text transform="translate(21.0,326.70) rotate(-90) scale(0.78,1)" text-anchor="middle" class="ax" style="font-size:32px">A</text>
<text x="66.10" y="480.20" text-anchor="middle" class="t" style="font-size:27.0px" transform="translate(66.10,0) scale(1.03,1) translate(-66.10,0)">0</text>
<text x="77.10" y="480.20" text-anchor="middle" class="t" style="font-size:27.0px">.</text>
<text x="88.30" y="480.20" text-anchor="middle" class="t" style="font-size:27.0px" transform="translate(88.30,0) scale(0.8,1) translate(-88.30,0)">1</text>
<text x="89.00" y="552.40" text-anchor="middle" class="t" style="font-size:27.0px" transform="translate(89.00,0) scale(1.03,1) translate(-89.00,0)">0</text>
<line x1="41.65" y1="617.30" x2="54.15" y2="617.30" stroke="#000" stroke-width="1.8" stroke-linecap="round"/>
<text x="64.95" y="624.60" text-anchor="middle" class="t" style="font-size:27.0px" transform="translate(64.95,0) scale(1.03,1) translate(-64.95,0)">0</text>
<text x="76.50" y="624.60" text-anchor="middle" class="t" style="font-size:27.0px">.</text>
<text x="87.60" y="624.60" text-anchor="middle" class="t" style="font-size:27.0px" transform="translate(87.60,0) scale(0.8,1) translate(-87.60,0)">1</text>
<text transform="translate(21.0,543.80) rotate(-90) scale(0.78,1)" text-anchor="middle" class="ax" style="font-size:32px">A</text>
<text x="110.84" y="682.80" text-anchor="middle" class="t" style="font-size:27.0px" transform="translate(110.84,0) scale(1.03,1) translate(-110.84,0)">0</text>
<text x="298.80" y="682.80" text-anchor="middle" class="t" style="font-size:27.0px" transform="translate(298.80,0) scale(0.88,1) translate(-298.80,0)">1</text>
<text x="486.46" y="682.80" text-anchor="middle" class="t" style="font-size:27.0px" transform="translate(486.46,0) scale(1.1,1) translate(-486.46,0)">2</text>
<text x="310.30" y="711.20" text-anchor="middle" class="ax" style="font-size:28.5px" transform="translate(310.30,0) scale(1.11,1) translate(-310.30,0)">z</text>
<text x="336.75" y="711.20" text-anchor="middle" class="ax" style="font-size:28.5px" transform="translate(336.75,0) scale(0.85,1) translate(-336.75,0)">(</text>
<text x="351.95" y="711.20" text-anchor="middle" class="ax" style="font-size:28.5px" transform="translate(351.95,0) scale(1.14,1) translate(-351.95,0)">k</text>
<text x="369.75" y="711.20" text-anchor="middle" class="ax" style="font-size:28.5px" transform="translate(369.75,0) scale(1.21,1) translate(-369.75,0)">p</text>
<text x="386.50" y="711.20" text-anchor="middle" class="ax" style="font-size:28.5px" transform="translate(386.50,0) scale(1.29,1) translate(-386.50,0)">c</text>
<text x="401.15" y="711.20" text-anchor="middle" class="ax" style="font-size:28.5px" transform="translate(401.15,0) scale(0.85,1) translate(-401.15,0)">)</text>
</g>
</svg>
</body></html>
